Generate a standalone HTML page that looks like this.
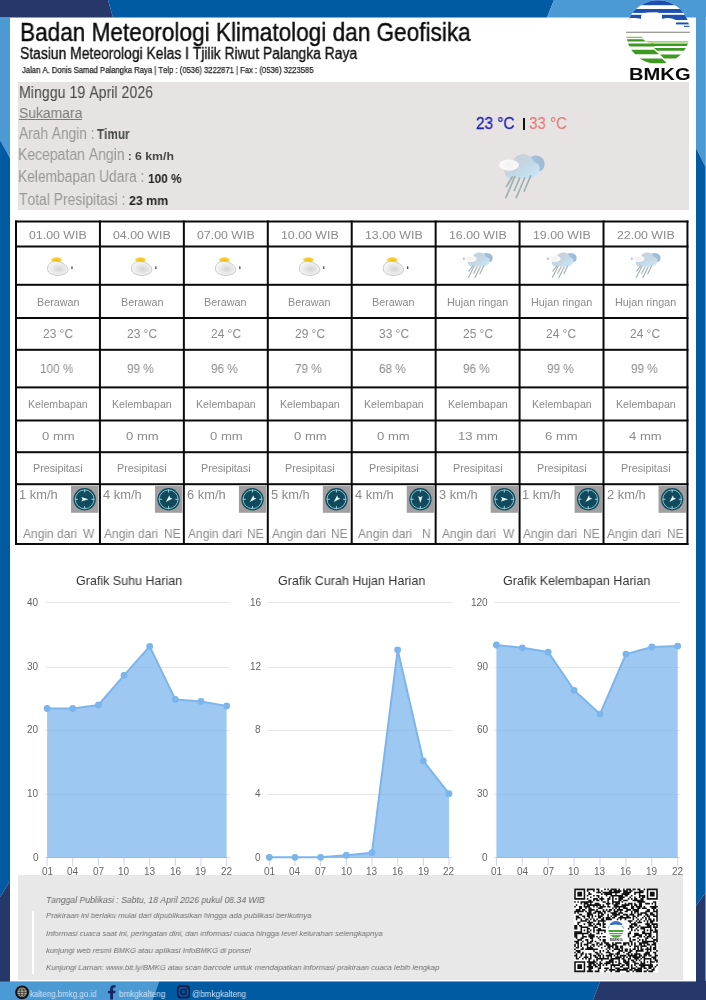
<!DOCTYPE html>
<html><head><meta charset="utf-8">
<style>
*{margin:0;padding:0;box-sizing:border-box}
html,body{width:706px;height:1000px;overflow:hidden;background:#fff}
body{position:relative;font-family:"Liberation Sans",sans-serif;color:#111}
.a{position:absolute;white-space:pre;line-height:1;font-kerning:none;transform-origin:0 0;will-change:transform}
svg{position:absolute;left:0;top:0;overflow:visible}
.small .rl line{vector-effect:non-scaling-stroke;stroke-width:1.1px}
</style></head><body>
<svg width="706" height="1000" viewBox="0 0 706 1000">
  <polygon points="0,0 108,0 113,17.4 0,17.4" fill="#263869"/>
  <polygon points="108,0 554,0 547,17.4 113,17.4" fill="#005ba2"/>
  <polygon points="554,0 706,0 706,17.4 547,17.4" fill="#4b9ad4"/>
  <polygon points="0,17 10,17 10,158 0,140" fill="#4b9ad4"/>
  <polygon points="0,140 10,158 10,881 0,897" fill="#005ba2"/>
  <polygon points="0,897 10,881 10,982 0,982" fill="#263869"/>
  <polygon points="696,17 706,17 706,168 696,148" fill="#4b9ad4"/>
  <polygon points="696,148 706,168 706,892 696,906" fill="#005ba2"/>
  <polygon points="696,906 706,892 706,982 696,982" fill="#263869"/>
  <rect x="705" y="17" width="1" height="964" fill="#7fb2e4" opacity="0.75"/>
  <rect x="0" y="981.5" width="706" height="1.6" fill="#000" opacity="0.16"/>
  <polygon points="0,981.5 159,981.5 152.5,1000 0,1000" fill="#4b9ad4"/>
  <polygon points="159,981.5 600,981.5 593,1000 152.5,1000" fill="#005ba2"/>
  <polygon points="600,981.5 706,981.5 706,1000 593,1000" fill="#263869"/>
</svg>
<div class="a" style="left:19.55px;top:20.00px;font-size:25.40px;color:#0c0c0c;transform:scaleX(0.8895);-webkit-text-stroke:0.4px #0c0c0c;">Badan Meteorologi Klimatologi dan Geofisika</div>
<div class="a" style="left:20.27px;top:46.00px;font-size:16.00px;color:#111;transform:scaleX(0.8675);-webkit-text-stroke:0.35px #111;">Stasiun Meteorologi Kelas I Tjilik Riwut Palangka Raya</div>
<div class="a" style="left:21.68px;top:66.00px;font-size:8.70px;color:#222;transform:scaleX(0.8834);-webkit-text-stroke:0.25px #222;">Jalan A. Donis Samad Palangka Raya | Telp : (0536) 3222871 | Fax : (0536) 3223585</div>
<svg width="706" height="100" viewBox="0 0 706 100">
<defs><clipPath id="lc"><circle cx="658.0" cy="32.2" r="32.0"/></clipPath>
<clipPath id="lct"><rect x="620" y="-5" width="80" height="37.2"/></clipPath></defs>
<g clip-path="url(#lc)">
 <rect x="620" y="-5" width="80" height="80" fill="#fff"/>
 <g clip-path="url(#lct)">
  <rect x="620" y="-5" width="80" height="10.2" fill="#1b4fb2"/>
  <rect x="620" y="9.0" width="80" height="3.9" fill="#1b4fb2"/>
  <rect x="620" y="14.8" width="80" height="5.3" fill="#1b4fb2"/>
  <path d="M620,22 L620,19.6 C624,19.2 627,18.3 631,18 C635,17.8 639,18.2 641,19 L641,16 C642,13.6 644,12.6 648,12.4 L656,12.3 C659,12.5 661,13.6 662,15.2 L662,19 C665,17.7 669,17.6 672,18.4 C674,19 675.5,19.6 676.5,20.2 L700,20.2 L700,22 Z" fill="#fff"/>
  <rect x="676" y="22.5" width="20" height="1.9" fill="#1b4fb2"/>
  <rect x="684" y="25.8" width="12" height="1.1" fill="#1b4fb2"/>
 </g>
 <!-- green left set -->
 <polygon points="620,36.8 642,36.8 643,38 620,38" fill="#8cc63f"/>
 <polygon points="620,39.2 643,39.2 646,41.4 620,41.4" fill="#3c9a22"/>
 <polygon points="620,43.6 653,43.6 655,46.6 620,46.6" fill="#3c9a22"/>
 <polygon points="620,49.8 654,49.8 659,54.2 620,54.2" fill="#3c9a22"/>
 <polygon points="620,58.5 662,58.5 667,63.3 620,63.3" fill="#3c9a22"/>
 <!-- green right set -->
 <polygon points="646,41.2 700,41.2 700,42.6 648,42.6" fill="#8cc63f"/>
 <polygon points="651,43.6 700,43.6 700,46 653,46" fill="#3c9a22"/>
 <polygon points="654,47.9 700,47.9 700,50.8 657,50.8" fill="#3c9a22"/>
 <polygon points="660,54.6 700,54.6 700,58.5 664,58.5" fill="#3c9a22"/>
</g>
<rect x="626" y="31.7" width="64" height="1.1" fill="#8a8580"/>
</svg>
<div class="a" style="left:628.55px;top:67.00px;font-size:16.70px;color:#0a0a0a;font-weight:bold;transform:scaleX(1.2073);">BMKG</div>
<div style="position:absolute;left:18px;top:82px;width:671px;height:128px;background:#e7e3e2"></div>
<div class="a" style="left:18.54px;top:85.00px;font-size:16.00px;color:#474747;transform:scaleX(0.8868);">Minggu 19 April 2026</div>
<div class="a" style="left:18.67px;top:105.00px;font-size:15.30px;color:#7a7a7a;transform:scaleX(0.9082);">Sukamara</div>
<div style="position:absolute;left:19px;top:119px;width:63.4px;height:1px;background:#7a7a7a"></div>
<div class="a" style="left:19.07px;top:126.00px;font-size:16.00px;color:#979797;transform:scaleX(0.8572);">Arah Angin :</div>
<div class="a" style="left:17.95px;top:147.00px;font-size:16.00px;color:#979797;transform:scaleX(0.8743);">Kecepatan Angin</div>
<div class="a" style="left:17.97px;top:169.00px;font-size:16.00px;color:#979797;transform:scaleX(0.8605);">Kelembapan Udara :</div>
<div class="a" style="left:18.79px;top:192.00px;font-size:16.00px;color:#979797;transform:scaleX(0.8677);">Total Presipitasi :</div>
<div class="a" style="left:97.37px;top:127.00px;font-size:14.00px;color:#474747;font-weight:bold;transform:scaleX(0.8359);">Timur</div>
<div class="a" style="left:127.94px;top:151.00px;font-size:11.00px;color:#474747;font-weight:bold;">:</div>
<div class="a" style="left:134.85px;top:151.00px;font-size:11.00px;color:#474747;font-weight:bold;transform:scaleX(1.1196);">6 km/h</div>
<div class="a" style="left:148.35px;top:172.00px;font-size:13.00px;color:#222;font-weight:bold;transform:scaleX(0.9104);">100 %</div>
<div class="a" style="left:128.67px;top:194.00px;font-size:13.00px;color:#222;font-weight:bold;transform:scaleX(0.9491);">23 mm</div>
<div class="a" style="left:476.23px;top:116.00px;font-size:15.80px;color:#1e1eb4;transform:scaleX(0.9714);-webkit-text-stroke:0.3px #1e1eb4;">23 °C</div>
<div style="position:absolute;left:523.2px;top:117.7px;width:1.8px;height:12.8px;background:#111"></div>
<div class="a" style="left:528.82px;top:116.00px;font-size:15.80px;color:#e07272;transform:scaleX(0.9561);">33 °C</div>
<svg width="0" height="0" style="position:absolute">
<defs>
 <radialGradient id="sunG" cx="0.5" cy="0.65" r="0.55"><stop offset="0" stop-color="#f0c000"/><stop offset="0.6" stop-color="#f5d03a"/><stop offset="1" stop-color="#fbeaa8" stop-opacity="0.1"/></radialGradient>
 <radialGradient id="cloudG" cx="0.55" cy="0.55" r="0.6"><stop offset="0" stop-color="#d4d4d4"/><stop offset="0.6" stop-color="#ececec"/><stop offset="1" stop-color="#fafafa"/></radialGradient>
 <linearGradient id="rcMain" x1="0.1" y1="0.1" x2="0.9" y2="0.9"><stop offset="0" stop-color="#c9cfd5"/><stop offset="0.5" stop-color="#c4d6e3"/><stop offset="1" stop-color="#c8e6f7"/></linearGradient>
 <linearGradient id="rcBack" x1="0" y1="0" x2="1" y2="0"><stop offset="0" stop-color="#a9c3dc"/><stop offset="1" stop-color="#9cbad6"/></linearGradient>
 <radialGradient id="rcFront" cx="0.5" cy="0.5" r="0.6"><stop offset="0" stop-color="#f0f0f0"/><stop offset="1" stop-color="#fdfdfd"/></radialGradient>
 <symbol id="pc" viewBox="-15 -10 32 22" overflow="visible">
  <ellipse cx="-1.4" cy="-6.4" rx="6.2" ry="3.4" fill="url(#sunG)"/>
  <path d="M-10.4,3.6 C-10.8,-1.6 -6.5,-4.6 -1.5,-4.2 C3.5,-3.8 9.2,-0.6 10,3.4 C10.6,7.2 5.5,9.6 0.5,9.8 C-4.5,10 -10.1,8 -10.4,3.6 Z" fill="url(#cloudG)" stroke="#b4b4b4" stroke-width="0.7"/>
  <rect x="13.4" y="0.8" width="1.2" height="2.6" fill="#3a3a3a"/>
 </symbol>
 <symbol id="rainc" viewBox="0 0 46 45" overflow="visible">
  <path d="M25,12 C26,5 30,1.2 36,1.2 C42,1.2 45.8,5 45.8,10 C45.8,14.5 43,17.5 39,17.5 L30,17.5 Z" fill="url(#rcBack)"/>
  <path d="M6,20 C4,14 8,9.5 13,9.5 C14,4 19,0 24.5,0.3 C30.5,0.6 34,4.5 35,8.5 C39,8.5 41.5,12 40.5,16 C39.5,21 35.5,24.7 29,24.7 L12,24.7 C8.5,24.7 6.8,22.5 6,20 Z" fill="url(#rcMain)"/>
  <ellipse cx="10" cy="11.2" rx="9.9" ry="5.6" fill="url(#rcFront)"/>
 </symbol>
 <symbol id="rain" viewBox="0 0 46 45" overflow="visible">
  <path d="M27,14 C27,6 32,1.5 37,1.5 C42,1.5 46.5,6 45.5,11 C45,15 42.5,17.5 39,17.5 L30,17.5 Z" fill="url(#rcBack)"/>
  <path d="M6,20 C4,14 8,9.5 13,9.5 C14,4 19,0 24.5,0.3 C30.5,0.6 34,4.5 35,8.5 C39,8.5 41.5,12 40.5,16 C39.5,21 35.5,24.7 29,24.7 L12,24.7 C8.5,24.7 6.8,22.5 6,20 Z" fill="url(#rcMain)"/>
  <ellipse cx="10" cy="11.2" rx="9.9" ry="5.6" fill="url(#rcFront)"/>
  <g stroke="#a0b1b5" stroke-width="1.8" stroke-linecap="round" class="rl">
   <line x1="13.3" y1="22.8" x2="7.4" y2="32.7"/>
   <line x1="15.8" y1="22.8" x2="6.9" y2="43.6"/>
   <line x1="20.7" y1="24.1" x2="15.3" y2="36.6"/>
   <line x1="25.7" y1="24.1" x2="17.3" y2="43.6"/>
   <line x1="31.6" y1="22.1" x2="25.2" y2="37.1"/>
  </g>
 </symbol>
 <symbol id="cmp" viewBox="0 0 27.4 27" overflow="visible">
  <rect x="0" y="0" width="27.4" height="27" fill="#a19f9f"/>
  <circle cx="13.6" cy="13.5" r="11.2" fill="#114a5d"/>
  <circle cx="13.6" cy="13.5" r="9.4" fill="none" stroke="#8fcdd6" stroke-width="0.9"/>
  <g stroke="#8fcdd6" stroke-width="1.1">
   <line x1="13.6" y1="3.6" x2="13.6" y2="6.8"/><line x1="13.6" y1="20.2" x2="13.6" y2="23.4"/>
   <line x1="3.7" y1="13.5" x2="6.9" y2="13.5"/><line x1="20.3" y1="13.5" x2="23.5" y2="13.5"/>
  </g>
 </symbol>
</defs></svg>
<svg width="706" height="1000"><use href="#rain" x="499" y="153.9" width="46" height="45"/></svg>
<svg width="706" height="1000">
<rect x="15.00" y="220.50" width="2" height="324.50" fill="#0a0a0a"/>
<rect x="98.93" y="220.50" width="2" height="324.50" fill="#0a0a0a"/>
<rect x="182.86" y="220.50" width="2" height="324.50" fill="#0a0a0a"/>
<rect x="266.79" y="220.50" width="2" height="324.50" fill="#0a0a0a"/>
<rect x="350.72" y="220.50" width="2" height="324.50" fill="#0a0a0a"/>
<rect x="434.65" y="220.50" width="2" height="324.50" fill="#0a0a0a"/>
<rect x="518.58" y="220.50" width="2" height="324.50" fill="#0a0a0a"/>
<rect x="602.51" y="220.50" width="2" height="324.50" fill="#0a0a0a"/>
<rect x="686.44" y="220.50" width="2" height="324.50" fill="#0a0a0a"/>
<rect x="15.00" y="220.50" width="673.44" height="2" fill="#0a0a0a"/>
<rect x="15.00" y="245.50" width="673.44" height="2" fill="#0a0a0a"/>
<rect x="15.00" y="283.80" width="673.44" height="2" fill="#0a0a0a"/>
<rect x="15.00" y="317.00" width="673.44" height="2" fill="#0a0a0a"/>
<rect x="15.00" y="348.80" width="673.44" height="2" fill="#0a0a0a"/>
<rect x="15.00" y="386.40" width="673.44" height="2" fill="#0a0a0a"/>
<rect x="15.00" y="419.50" width="673.44" height="2" fill="#0a0a0a"/>
<rect x="15.00" y="451.20" width="673.44" height="2" fill="#0a0a0a"/>
<rect x="15.00" y="483.20" width="673.44" height="2" fill="#0a0a0a"/>
<rect x="15.00" y="543.00" width="673.44" height="2" fill="#0a0a0a"/>
<use href="#pc" x="42.97" y="255.60" width="32" height="22"/>
<use href="#pc" x="126.90" y="255.60" width="32" height="22"/>
<use href="#pc" x="210.83" y="255.60" width="32" height="22"/>
<use href="#pc" x="294.75" y="255.60" width="32" height="22"/>
<use href="#pc" x="378.69" y="255.60" width="32" height="22"/>
<g transform="translate(464.31,252.3) scale(0.62,0.575)"><use href="#rainc" x="0" y="0" width="46" height="45"/></g>
<g stroke="#a3b3b6" stroke-width="1.15" stroke-linecap="round"><line x1="472.56" y1="266.21" x2="468.90" y2="271.10"/><line x1="474.11" y1="266.21" x2="468.59" y2="277.37"/><line x1="477.15" y1="266.96" x2="473.80" y2="273.35"/><line x1="480.25" y1="266.96" x2="475.04" y2="277.37"/><line x1="483.91" y1="265.81" x2="479.94" y2="273.63"/></g>
<rect x="463.01" y="257.7" width="1.8" height="2" fill="#b8b8b8"/>
<g transform="translate(548.25,252.3) scale(0.62,0.575)"><use href="#rainc" x="0" y="0" width="46" height="45"/></g>
<g stroke="#a3b3b6" stroke-width="1.15" stroke-linecap="round"><line x1="556.49" y1="266.21" x2="552.83" y2="271.10"/><line x1="558.04" y1="266.21" x2="552.52" y2="277.37"/><line x1="561.08" y1="266.96" x2="557.73" y2="273.35"/><line x1="564.18" y1="266.96" x2="558.97" y2="277.37"/><line x1="567.84" y1="265.81" x2="563.87" y2="273.63"/></g>
<rect x="546.95" y="257.7" width="1.8" height="2" fill="#b8b8b8"/>
<g transform="translate(632.17,252.3) scale(0.62,0.575)"><use href="#rainc" x="0" y="0" width="46" height="45"/></g>
<g stroke="#a3b3b6" stroke-width="1.15" stroke-linecap="round"><line x1="640.42" y1="266.21" x2="636.76" y2="271.10"/><line x1="641.97" y1="266.21" x2="636.45" y2="277.37"/><line x1="645.01" y1="266.96" x2="641.66" y2="273.35"/><line x1="648.11" y1="266.96" x2="642.90" y2="277.37"/><line x1="651.77" y1="265.81" x2="647.80" y2="273.63"/></g>
<rect x="630.88" y="257.7" width="1.8" height="2" fill="#b8b8b8"/>
<use href="#cmp" x="71.03" y="485.80" width="27.4" height="27"/>
<path transform="translate(84.63,499.30) rotate(90)" d="M0,-3.8 L2.2,3.4 L0,2.1 L-2.2,3.4 Z" fill="#e6fbff"/>
<use href="#cmp" x="154.96" y="485.80" width="27.4" height="27"/>
<path transform="translate(168.56,499.30) rotate(225)" d="M0,-3.8 L2.2,3.4 L0,2.1 L-2.2,3.4 Z" fill="#e6fbff"/>
<use href="#cmp" x="238.89" y="485.80" width="27.4" height="27"/>
<path transform="translate(252.49,499.30) rotate(225)" d="M0,-3.8 L2.2,3.4 L0,2.1 L-2.2,3.4 Z" fill="#e6fbff"/>
<use href="#cmp" x="322.82" y="485.80" width="27.4" height="27"/>
<path transform="translate(336.42,499.30) rotate(225)" d="M0,-3.8 L2.2,3.4 L0,2.1 L-2.2,3.4 Z" fill="#e6fbff"/>
<use href="#cmp" x="406.75" y="485.80" width="27.4" height="27"/>
<path transform="translate(420.35,499.30) rotate(180)" d="M0,-3.8 L2.2,3.4 L0,2.1 L-2.2,3.4 Z" fill="#e6fbff"/>
<use href="#cmp" x="490.68" y="485.80" width="27.4" height="27"/>
<path transform="translate(504.28,499.30) rotate(90)" d="M0,-3.8 L2.2,3.4 L0,2.1 L-2.2,3.4 Z" fill="#e6fbff"/>
<use href="#cmp" x="574.61" y="485.80" width="27.4" height="27"/>
<path transform="translate(588.21,499.30) rotate(225)" d="M0,-3.8 L2.2,3.4 L0,2.1 L-2.2,3.4 Z" fill="#e6fbff"/>
<use href="#cmp" x="658.54" y="485.80" width="27.4" height="27"/>
<path transform="translate(672.14,499.30) rotate(225)" d="M0,-3.8 L2.2,3.4 L0,2.1 L-2.2,3.4 Z" fill="#e6fbff"/>
</svg>
<div class="a" style="left:29.18px;top:229.00px;font-size:11.70px;color:#8a8a8a;transform:scaleX(1.0569);">01.00 WIB</div>
<div class="a" style="left:113.11px;top:229.00px;font-size:11.70px;color:#8a8a8a;transform:scaleX(1.0569);">04.00 WIB</div>
<div class="a" style="left:197.04px;top:229.00px;font-size:11.70px;color:#8a8a8a;transform:scaleX(1.0569);">07.00 WIB</div>
<div class="a" style="left:280.74px;top:229.00px;font-size:11.70px;color:#8a8a8a;transform:scaleX(1.0569);">10.00 WIB</div>
<div class="a" style="left:364.67px;top:229.00px;font-size:11.70px;color:#8a8a8a;transform:scaleX(1.0569);">13.00 WIB</div>
<div class="a" style="left:448.60px;top:229.00px;font-size:11.70px;color:#8a8a8a;transform:scaleX(1.0569);">16.00 WIB</div>
<div class="a" style="left:532.53px;top:229.00px;font-size:11.70px;color:#8a8a8a;transform:scaleX(1.0569);">19.00 WIB</div>
<div class="a" style="left:616.62px;top:229.00px;font-size:11.70px;color:#8a8a8a;transform:scaleX(1.0569);">22.00 WIB</div>
<div class="a" style="left:36.58px;top:297.00px;font-size:10.50px;color:#8a8a8a;transform:scaleX(1.0276);">Berawan</div>
<div class="a" style="left:120.51px;top:297.00px;font-size:10.50px;color:#8a8a8a;transform:scaleX(1.0276);">Berawan</div>
<div class="a" style="left:204.44px;top:297.00px;font-size:10.50px;color:#8a8a8a;transform:scaleX(1.0276);">Berawan</div>
<div class="a" style="left:288.37px;top:297.00px;font-size:10.50px;color:#8a8a8a;transform:scaleX(1.0276);">Berawan</div>
<div class="a" style="left:372.30px;top:297.00px;font-size:10.50px;color:#8a8a8a;transform:scaleX(1.0276);">Berawan</div>
<div class="a" style="left:446.93px;top:297.00px;font-size:10.50px;color:#8a8a8a;transform:scaleX(1.0276);">Hujan ringan</div>
<div class="a" style="left:530.86px;top:297.00px;font-size:10.50px;color:#8a8a8a;transform:scaleX(1.0276);">Hujan ringan</div>
<div class="a" style="left:614.79px;top:297.00px;font-size:10.50px;color:#8a8a8a;transform:scaleX(1.0276);">Hujan ringan</div>
<div class="a" style="left:42.86px;top:329.00px;font-size:11.90px;color:#8a8a8a;transform:scaleX(1.0054);">23 °C</div>
<div class="a" style="left:126.79px;top:329.00px;font-size:11.90px;color:#8a8a8a;transform:scaleX(1.0054);">23 °C</div>
<div class="a" style="left:210.72px;top:329.00px;font-size:11.90px;color:#8a8a8a;transform:scaleX(1.0054);">24 °C</div>
<div class="a" style="left:294.65px;top:329.00px;font-size:11.90px;color:#8a8a8a;transform:scaleX(1.0054);">29 °C</div>
<div class="a" style="left:378.66px;top:329.00px;font-size:11.90px;color:#8a8a8a;transform:scaleX(1.0054);">33 °C</div>
<div class="a" style="left:462.51px;top:329.00px;font-size:11.90px;color:#8a8a8a;transform:scaleX(1.0054);">25 °C</div>
<div class="a" style="left:546.44px;top:329.00px;font-size:11.90px;color:#8a8a8a;transform:scaleX(1.0054);">24 °C</div>
<div class="a" style="left:630.37px;top:329.00px;font-size:11.90px;color:#8a8a8a;transform:scaleX(1.0054);">24 °C</div>
<div class="a" style="left:39.67px;top:363.00px;font-size:12.30px;color:#8a8a8a;transform:scaleX(0.9552);">100 %</div>
<div class="a" style="left:127.04px;top:363.00px;font-size:12.30px;color:#8a8a8a;transform:scaleX(0.9552);">99 %</div>
<div class="a" style="left:210.97px;top:363.00px;font-size:12.30px;color:#8a8a8a;transform:scaleX(0.9552);">96 %</div>
<div class="a" style="left:294.87px;top:363.00px;font-size:12.30px;color:#8a8a8a;transform:scaleX(0.9552);">79 %</div>
<div class="a" style="left:378.81px;top:363.00px;font-size:12.30px;color:#8a8a8a;transform:scaleX(0.9552);">68 %</div>
<div class="a" style="left:462.76px;top:363.00px;font-size:12.30px;color:#8a8a8a;transform:scaleX(0.9552);">96 %</div>
<div class="a" style="left:546.69px;top:363.00px;font-size:12.30px;color:#8a8a8a;transform:scaleX(0.9552);">99 %</div>
<div class="a" style="left:630.62px;top:363.00px;font-size:12.30px;color:#8a8a8a;transform:scaleX(0.9552);">99 %</div>
<div class="a" style="left:27.99px;top:400.00px;font-size:10.30px;color:#8a8a8a;transform:scaleX(1.0333);">Kelembapan</div>
<div class="a" style="left:111.92px;top:400.00px;font-size:10.30px;color:#8a8a8a;transform:scaleX(1.0333);">Kelembapan</div>
<div class="a" style="left:195.85px;top:400.00px;font-size:10.30px;color:#8a8a8a;transform:scaleX(1.0333);">Kelembapan</div>
<div class="a" style="left:279.78px;top:400.00px;font-size:10.30px;color:#8a8a8a;transform:scaleX(1.0333);">Kelembapan</div>
<div class="a" style="left:363.71px;top:400.00px;font-size:10.30px;color:#8a8a8a;transform:scaleX(1.0333);">Kelembapan</div>
<div class="a" style="left:447.64px;top:400.00px;font-size:10.30px;color:#8a8a8a;transform:scaleX(1.0333);">Kelembapan</div>
<div class="a" style="left:531.57px;top:400.00px;font-size:10.30px;color:#8a8a8a;transform:scaleX(1.0333);">Kelembapan</div>
<div class="a" style="left:615.50px;top:400.00px;font-size:10.30px;color:#8a8a8a;transform:scaleX(1.0333);">Kelembapan</div>
<div class="a" style="left:41.75px;top:431.00px;font-size:11.20px;color:#8a8a8a;transform:scaleX(1.1706);">0 mm</div>
<div class="a" style="left:125.68px;top:431.00px;font-size:11.20px;color:#8a8a8a;transform:scaleX(1.1706);">0 mm</div>
<div class="a" style="left:209.61px;top:431.00px;font-size:11.20px;color:#8a8a8a;transform:scaleX(1.1706);">0 mm</div>
<div class="a" style="left:293.54px;top:431.00px;font-size:11.20px;color:#8a8a8a;transform:scaleX(1.1706);">0 mm</div>
<div class="a" style="left:377.47px;top:431.00px;font-size:11.20px;color:#8a8a8a;transform:scaleX(1.1706);">0 mm</div>
<div class="a" style="left:457.51px;top:431.00px;font-size:11.20px;color:#8a8a8a;transform:scaleX(1.1706);">13 mm</div>
<div class="a" style="left:545.26px;top:431.00px;font-size:11.20px;color:#8a8a8a;transform:scaleX(1.1706);">6 mm</div>
<div class="a" style="left:629.37px;top:431.00px;font-size:11.20px;color:#8a8a8a;transform:scaleX(1.1706);">4 mm</div>
<div class="a" style="left:33.08px;top:464.00px;font-size:10.00px;color:#8a8a8a;transform:scaleX(1.0754);">Presipitasi</div>
<div class="a" style="left:117.01px;top:464.00px;font-size:10.00px;color:#8a8a8a;transform:scaleX(1.0754);">Presipitasi</div>
<div class="a" style="left:200.94px;top:464.00px;font-size:10.00px;color:#8a8a8a;transform:scaleX(1.0754);">Presipitasi</div>
<div class="a" style="left:284.87px;top:464.00px;font-size:10.00px;color:#8a8a8a;transform:scaleX(1.0754);">Presipitasi</div>
<div class="a" style="left:368.80px;top:464.00px;font-size:10.00px;color:#8a8a8a;transform:scaleX(1.0754);">Presipitasi</div>
<div class="a" style="left:452.73px;top:464.00px;font-size:10.00px;color:#8a8a8a;transform:scaleX(1.0754);">Presipitasi</div>
<div class="a" style="left:536.66px;top:464.00px;font-size:10.00px;color:#8a8a8a;transform:scaleX(1.0754);">Presipitasi</div>
<div class="a" style="left:620.59px;top:464.00px;font-size:10.00px;color:#8a8a8a;transform:scaleX(1.0754);">Presipitasi</div>
<div class="a" style="left:18.82px;top:489.00px;font-size:12.30px;color:#8a8a8a;transform:scaleX(1.0462);">1 km/h</div>
<div class="a" style="left:22.58px;top:528.00px;font-size:12.80px;color:#8a8a8a;transform:scaleX(0.9374);">Angin dari</div>
<div class="a" style="left:82.85px;top:528.00px;font-size:12.80px;color:#8a8a8a;transform:scaleX(0.9374);">W</div>
<div class="a" style="left:103.43px;top:489.00px;font-size:12.30px;color:#8a8a8a;transform:scaleX(1.0462);">4 km/h</div>
<div class="a" style="left:103.71px;top:528.00px;font-size:12.80px;color:#8a8a8a;transform:scaleX(0.9374);">Angin dari</div>
<div class="a" style="left:163.51px;top:528.00px;font-size:12.80px;color:#8a8a8a;transform:scaleX(0.9374);">NE</div>
<div class="a" style="left:187.01px;top:489.00px;font-size:12.30px;color:#8a8a8a;transform:scaleX(1.0462);">6 km/h</div>
<div class="a" style="left:187.64px;top:528.00px;font-size:12.80px;color:#8a8a8a;transform:scaleX(0.9374);">Angin dari</div>
<div class="a" style="left:247.44px;top:528.00px;font-size:12.80px;color:#8a8a8a;transform:scaleX(0.9374);">NE</div>
<div class="a" style="left:271.07px;top:489.00px;font-size:12.30px;color:#8a8a8a;transform:scaleX(1.0462);">5 km/h</div>
<div class="a" style="left:271.57px;top:528.00px;font-size:12.80px;color:#8a8a8a;transform:scaleX(0.9374);">Angin dari</div>
<div class="a" style="left:331.37px;top:528.00px;font-size:12.80px;color:#8a8a8a;transform:scaleX(0.9374);">NE</div>
<div class="a" style="left:355.22px;top:489.00px;font-size:12.30px;color:#8a8a8a;transform:scaleX(1.0462);">4 km/h</div>
<div class="a" style="left:358.30px;top:528.00px;font-size:12.80px;color:#8a8a8a;transform:scaleX(0.9374);">Angin dari</div>
<div class="a" style="left:422.16px;top:528.00px;font-size:12.80px;color:#8a8a8a;transform:scaleX(0.9374);">N</div>
<div class="a" style="left:438.96px;top:489.00px;font-size:12.30px;color:#8a8a8a;transform:scaleX(1.0462);">3 km/h</div>
<div class="a" style="left:442.23px;top:528.00px;font-size:12.80px;color:#8a8a8a;transform:scaleX(0.9374);">Angin dari</div>
<div class="a" style="left:502.50px;top:528.00px;font-size:12.80px;color:#8a8a8a;transform:scaleX(0.9374);">W</div>
<div class="a" style="left:522.40px;top:489.00px;font-size:12.30px;color:#8a8a8a;transform:scaleX(1.0462);">1 km/h</div>
<div class="a" style="left:523.36px;top:528.00px;font-size:12.80px;color:#8a8a8a;transform:scaleX(0.9374);">Angin dari</div>
<div class="a" style="left:583.16px;top:528.00px;font-size:12.80px;color:#8a8a8a;transform:scaleX(0.9374);">NE</div>
<div class="a" style="left:606.66px;top:489.00px;font-size:12.30px;color:#8a8a8a;transform:scaleX(1.0462);">2 km/h</div>
<div class="a" style="left:607.29px;top:528.00px;font-size:12.80px;color:#8a8a8a;transform:scaleX(0.9374);">Angin dari</div>
<div class="a" style="left:667.09px;top:528.00px;font-size:12.80px;color:#8a8a8a;transform:scaleX(0.9374);">NE</div>
<svg width="706" height="1000">
<rect x="45.50" y="602" width="184.10" height="1" fill="#e6e6e6"/>
<rect x="45.50" y="667" width="184.10" height="1" fill="#e6e6e6"/>
<rect x="45.50" y="730" width="184.10" height="1" fill="#e6e6e6"/>
<rect x="45.50" y="794" width="184.10" height="1" fill="#e6e6e6"/>
<rect x="45.50" y="857" width="184.10" height="1" fill="#ccd6eb"/>
<rect x="46.60" y="858" width="1" height="8" fill="#ccd6eb"/>
<rect x="72.24" y="858" width="1" height="8" fill="#ccd6eb"/>
<rect x="97.89" y="858" width="1" height="8" fill="#ccd6eb"/>
<rect x="123.53" y="858" width="1" height="8" fill="#ccd6eb"/>
<rect x="149.17" y="858" width="1" height="8" fill="#ccd6eb"/>
<rect x="174.81" y="858" width="1" height="8" fill="#ccd6eb"/>
<rect x="200.46" y="858" width="1" height="8" fill="#ccd6eb"/>
<rect x="226.10" y="858" width="1" height="8" fill="#ccd6eb"/>
<polygon points="47.10,858 47.10,708.50 72.74,708.50 98.39,705.00 124.03,675.30 149.67,646.40 175.31,699.40 200.96,701.40 226.60,705.90 226.60,858" fill="#7cb5ec" fill-opacity="0.75"/>
<polyline points="47.10,708.50 72.74,708.50 98.39,705.00 124.03,675.30 149.67,646.40 175.31,699.40 200.96,701.40 226.60,705.90" fill="none" stroke="#7cb5ec" stroke-width="2" stroke-linejoin="round"/>
<circle cx="47.10" cy="708.50" r="3.4" fill="#7cb5ec"/>
<circle cx="72.74" cy="708.50" r="3.4" fill="#7cb5ec"/>
<circle cx="98.39" cy="705.00" r="3.4" fill="#7cb5ec"/>
<circle cx="124.03" cy="675.30" r="3.4" fill="#7cb5ec"/>
<circle cx="149.67" cy="646.40" r="3.4" fill="#7cb5ec"/>
<circle cx="175.31" cy="699.40" r="3.4" fill="#7cb5ec"/>
<circle cx="200.96" cy="701.40" r="3.4" fill="#7cb5ec"/>
<circle cx="226.60" cy="705.90" r="3.4" fill="#7cb5ec"/>
<rect x="267.30" y="602" width="184.30" height="1" fill="#e6e6e6"/>
<rect x="267.30" y="667" width="184.30" height="1" fill="#e6e6e6"/>
<rect x="267.30" y="730" width="184.30" height="1" fill="#e6e6e6"/>
<rect x="267.30" y="794" width="184.30" height="1" fill="#e6e6e6"/>
<rect x="267.30" y="857" width="184.30" height="1" fill="#ccd6eb"/>
<rect x="268.80" y="858" width="1" height="8" fill="#ccd6eb"/>
<rect x="294.47" y="858" width="1" height="8" fill="#ccd6eb"/>
<rect x="320.14" y="858" width="1" height="8" fill="#ccd6eb"/>
<rect x="345.81" y="858" width="1" height="8" fill="#ccd6eb"/>
<rect x="371.49" y="858" width="1" height="8" fill="#ccd6eb"/>
<rect x="397.16" y="858" width="1" height="8" fill="#ccd6eb"/>
<rect x="422.83" y="858" width="1" height="8" fill="#ccd6eb"/>
<rect x="448.50" y="858" width="1" height="8" fill="#ccd6eb"/>
<polygon points="269.30,858 269.30,857.30 294.97,857.30 320.64,857.30 346.31,855.23 371.99,852.68 397.66,649.80 423.33,760.90 449.00,793.70 449.00,858" fill="#7cb5ec" fill-opacity="0.75"/>
<polyline points="269.30,857.30 294.97,857.30 320.64,857.30 346.31,855.23 371.99,852.68 397.66,649.80 423.33,760.90 449.00,793.70" fill="none" stroke="#7cb5ec" stroke-width="2" stroke-linejoin="round"/>
<circle cx="269.30" cy="857.30" r="3.4" fill="#7cb5ec"/>
<circle cx="294.97" cy="857.30" r="3.4" fill="#7cb5ec"/>
<circle cx="320.64" cy="857.30" r="3.4" fill="#7cb5ec"/>
<circle cx="346.31" cy="855.23" r="3.4" fill="#7cb5ec"/>
<circle cx="371.99" cy="852.68" r="3.4" fill="#7cb5ec"/>
<circle cx="397.66" cy="649.80" r="3.4" fill="#7cb5ec"/>
<circle cx="423.33" cy="760.90" r="3.4" fill="#7cb5ec"/>
<circle cx="449.00" cy="793.70" r="3.4" fill="#7cb5ec"/>
<rect x="494.50" y="602" width="185.30" height="1" fill="#e6e6e6"/>
<rect x="494.50" y="667" width="185.30" height="1" fill="#e6e6e6"/>
<rect x="494.50" y="730" width="185.30" height="1" fill="#e6e6e6"/>
<rect x="494.50" y="794" width="185.30" height="1" fill="#e6e6e6"/>
<rect x="494.50" y="857" width="185.30" height="1" fill="#ccd6eb"/>
<rect x="495.90" y="858" width="1" height="8" fill="#ccd6eb"/>
<rect x="521.80" y="858" width="1" height="8" fill="#ccd6eb"/>
<rect x="547.70" y="858" width="1" height="8" fill="#ccd6eb"/>
<rect x="573.60" y="858" width="1" height="8" fill="#ccd6eb"/>
<rect x="599.50" y="858" width="1" height="8" fill="#ccd6eb"/>
<rect x="625.40" y="858" width="1" height="8" fill="#ccd6eb"/>
<rect x="651.30" y="858" width="1" height="8" fill="#ccd6eb"/>
<rect x="677.20" y="858" width="1" height="8" fill="#ccd6eb"/>
<polygon points="496.40,858 496.40,645.00 522.30,647.80 548.20,652.10 574.10,690.30 600.00,714.10 625.90,654.10 651.80,647.00 677.70,646.10 677.70,858" fill="#7cb5ec" fill-opacity="0.75"/>
<polyline points="496.40,645.00 522.30,647.80 548.20,652.10 574.10,690.30 600.00,714.10 625.90,654.10 651.80,647.00 677.70,646.10" fill="none" stroke="#7cb5ec" stroke-width="2" stroke-linejoin="round"/>
<circle cx="496.40" cy="645.00" r="3.4" fill="#7cb5ec"/>
<circle cx="522.30" cy="647.80" r="3.4" fill="#7cb5ec"/>
<circle cx="548.20" cy="652.10" r="3.4" fill="#7cb5ec"/>
<circle cx="574.10" cy="690.30" r="3.4" fill="#7cb5ec"/>
<circle cx="600.00" cy="714.10" r="3.4" fill="#7cb5ec"/>
<circle cx="625.90" cy="654.10" r="3.4" fill="#7cb5ec"/>
<circle cx="651.80" cy="647.00" r="3.4" fill="#7cb5ec"/>
<circle cx="677.70" cy="646.10" r="3.4" fill="#7cb5ec"/>
</svg>
<div class="a" style="left:75.87px;top:575.00px;font-size:12.60px;color:#333;transform:scaleX(0.9925);">Grafik Suhu Harian</div>
<div class="a" style="left:27.37px;top:598.00px;font-size:10.00px;color:#666;">40</div>
<div class="a" style="left:27.37px;top:662.00px;font-size:10.00px;color:#666;">30</div>
<div class="a" style="left:27.37px;top:725.00px;font-size:10.00px;color:#666;">20</div>
<div class="a" style="left:27.37px;top:789.00px;font-size:10.00px;color:#666;">10</div>
<div class="a" style="left:32.93px;top:853.00px;font-size:10.00px;color:#666;">0</div>
<div class="a" style="left:41.59px;top:867.00px;font-size:10.00px;color:#666;">01</div>
<div class="a" style="left:67.13px;top:867.00px;font-size:10.00px;color:#666;">04</div>
<div class="a" style="left:92.88px;top:867.00px;font-size:10.00px;color:#666;">07</div>
<div class="a" style="left:118.28px;top:867.00px;font-size:10.00px;color:#666;">10</div>
<div class="a" style="left:143.95px;top:867.00px;font-size:10.00px;color:#666;">13</div>
<div class="a" style="left:169.59px;top:867.00px;font-size:10.00px;color:#666;">16</div>
<div class="a" style="left:195.25px;top:867.00px;font-size:10.00px;color:#666;">19</div>
<div class="a" style="left:221.04px;top:867.00px;font-size:10.00px;color:#666;">22</div>
<div class="a" style="left:277.77px;top:575.00px;font-size:12.60px;color:#333;transform:scaleX(0.9918);">Grafik Curah Hujan Harian</div>
<div class="a" style="left:249.82px;top:598.00px;font-size:10.00px;color:#666;">16</div>
<div class="a" style="left:249.88px;top:662.00px;font-size:10.00px;color:#666;">12</div>
<div class="a" style="left:255.37px;top:725.00px;font-size:10.00px;color:#666;">8</div>
<div class="a" style="left:255.23px;top:789.00px;font-size:10.00px;color:#666;">4</div>
<div class="a" style="left:255.33px;top:853.00px;font-size:10.00px;color:#666;">0</div>
<div class="a" style="left:263.79px;top:867.00px;font-size:10.00px;color:#666;">01</div>
<div class="a" style="left:289.36px;top:867.00px;font-size:10.00px;color:#666;">04</div>
<div class="a" style="left:315.14px;top:867.00px;font-size:10.00px;color:#666;">07</div>
<div class="a" style="left:340.57px;top:867.00px;font-size:10.00px;color:#666;">10</div>
<div class="a" style="left:366.26px;top:867.00px;font-size:10.00px;color:#666;">13</div>
<div class="a" style="left:391.93px;top:867.00px;font-size:10.00px;color:#666;">16</div>
<div class="a" style="left:417.62px;top:867.00px;font-size:10.00px;color:#666;">19</div>
<div class="a" style="left:443.44px;top:867.00px;font-size:10.00px;color:#666;">22</div>
<div class="a" style="left:502.77px;top:575.00px;font-size:12.60px;color:#333;transform:scaleX(0.9917);">Grafik Kelembapan Harian</div>
<div class="a" style="left:471.11px;top:598.00px;font-size:10.00px;color:#666;">120</div>
<div class="a" style="left:476.67px;top:662.00px;font-size:10.00px;color:#666;">90</div>
<div class="a" style="left:476.67px;top:725.00px;font-size:10.00px;color:#666;">60</div>
<div class="a" style="left:476.67px;top:789.00px;font-size:10.00px;color:#666;">30</div>
<div class="a" style="left:482.23px;top:853.00px;font-size:10.00px;color:#666;">0</div>
<div class="a" style="left:490.89px;top:867.00px;font-size:10.00px;color:#666;">01</div>
<div class="a" style="left:516.69px;top:867.00px;font-size:10.00px;color:#666;">04</div>
<div class="a" style="left:542.69px;top:867.00px;font-size:10.00px;color:#666;">07</div>
<div class="a" style="left:568.35px;top:867.00px;font-size:10.00px;color:#666;">10</div>
<div class="a" style="left:594.28px;top:867.00px;font-size:10.00px;color:#666;">13</div>
<div class="a" style="left:620.18px;top:867.00px;font-size:10.00px;color:#666;">16</div>
<div class="a" style="left:646.09px;top:867.00px;font-size:10.00px;color:#666;">19</div>
<div class="a" style="left:672.14px;top:867.00px;font-size:10.00px;color:#666;">22</div>
<div style="position:absolute;left:18.4px;top:874.8px;width:664.6px;height:104.9px;background:#e8e8e8"></div>
<div style="position:absolute;left:32.2px;top:911px;width:1.8px;height:62.5px;background:#fff"></div>
<div class="a" style="left:46.33px;top:896.00px;font-size:9.20px;color:#686868;font-style:italic;transform:scaleX(0.9369);">Tanggal Publikasi : Sabtu, 18 April 2026 pukul 08.34 WIB</div>
<div class="a" style="left:46.16px;top:912.00px;font-size:8.10px;color:#6f6f6f;font-style:italic;transform:scaleX(0.9487);">Prakiraan ini berlaku mulai dari dipublikasikan hingga ada publikasi berikutnya</div>
<div class="a" style="left:46.10px;top:930.00px;font-size:8.10px;color:#6f6f6f;font-style:italic;transform:scaleX(0.9479);">Informasi cuaca saat ini, peringatan dini, dan informasi cuaca hingga level kelurahan selengkapnya</div>
<div class="a" style="left:46.27px;top:947.00px;font-size:8.10px;color:#6f6f6f;font-style:italic;transform:scaleX(0.9436);">kunjungi web resmi BMKG atau aplikasi InfoBMKG di ponsel</div>
<div class="a" style="left:46.16px;top:964.00px;font-size:8.10px;color:#6f6f6f;font-style:italic;transform:scaleX(0.9537);">Kunjungi Laman: www.bit.ly/BMKG atau scan barcode untuk mendapatkan informasi prakiraan cuaca lebih lengkap</div>
<svg width="706" height="1000"><rect x="573.80" y="888.20" width="84.40" height="84.40" fill="#fff"/>
<path d="M574.20,888.60h1.58v1.58h-1.58zM575.78,888.60h1.58v1.58h-1.58zM577.35,888.60h1.58v1.58h-1.58zM578.93,888.60h1.58v1.58h-1.58zM580.51,888.60h1.58v1.58h-1.58zM582.09,888.60h1.58v1.58h-1.58zM583.66,888.60h1.58v1.58h-1.58zM586.82,888.60h1.58v1.58h-1.58zM588.40,888.60h1.58v1.58h-1.58zM589.97,888.60h1.58v1.58h-1.58zM591.55,888.60h1.58v1.58h-1.58zM593.13,888.60h1.58v1.58h-1.58zM596.28,888.60h1.58v1.58h-1.58zM597.86,888.60h1.58v1.58h-1.58zM604.17,888.60h1.58v1.58h-1.58zM607.32,888.60h1.58v1.58h-1.58zM610.48,888.60h1.58v1.58h-1.58zM612.06,888.60h1.58v1.58h-1.58zM613.63,888.60h1.58v1.58h-1.58zM615.21,888.60h1.58v1.58h-1.58zM618.37,888.60h1.58v1.58h-1.58zM623.10,888.60h1.58v1.58h-1.58zM626.25,888.60h1.58v1.58h-1.58zM627.83,888.60h1.58v1.58h-1.58zM629.41,888.60h1.58v1.58h-1.58zM632.56,888.60h1.58v1.58h-1.58zM634.14,888.60h1.58v1.58h-1.58zM637.29,888.60h1.58v1.58h-1.58zM638.87,888.60h1.58v1.58h-1.58zM643.60,888.60h1.58v1.58h-1.58zM646.76,888.60h1.58v1.58h-1.58zM648.34,888.60h1.58v1.58h-1.58zM649.91,888.60h1.58v1.58h-1.58zM651.49,888.60h1.58v1.58h-1.58zM653.07,888.60h1.58v1.58h-1.58zM654.65,888.60h1.58v1.58h-1.58zM656.22,888.60h1.58v1.58h-1.58zM574.20,890.18h1.58v1.58h-1.58zM583.66,890.18h1.58v1.58h-1.58zM586.82,890.18h1.58v1.58h-1.58zM593.13,890.18h1.58v1.58h-1.58zM597.86,890.18h1.58v1.58h-1.58zM601.02,890.18h1.58v1.58h-1.58zM608.90,890.18h1.58v1.58h-1.58zM610.48,890.18h1.58v1.58h-1.58zM613.63,890.18h1.58v1.58h-1.58zM615.21,890.18h1.58v1.58h-1.58zM616.79,890.18h1.58v1.58h-1.58zM618.37,890.18h1.58v1.58h-1.58zM619.94,890.18h1.58v1.58h-1.58zM623.10,890.18h1.58v1.58h-1.58zM624.68,890.18h1.58v1.58h-1.58zM626.25,890.18h1.58v1.58h-1.58zM629.41,890.18h1.58v1.58h-1.58zM630.98,890.18h1.58v1.58h-1.58zM638.87,890.18h1.58v1.58h-1.58zM640.45,890.18h1.58v1.58h-1.58zM642.03,890.18h1.58v1.58h-1.58zM646.76,890.18h1.58v1.58h-1.58zM656.22,890.18h1.58v1.58h-1.58zM574.20,891.75h1.58v1.58h-1.58zM577.35,891.75h1.58v1.58h-1.58zM578.93,891.75h1.58v1.58h-1.58zM580.51,891.75h1.58v1.58h-1.58zM583.66,891.75h1.58v1.58h-1.58zM588.40,891.75h1.58v1.58h-1.58zM596.28,891.75h1.58v1.58h-1.58zM597.86,891.75h1.58v1.58h-1.58zM599.44,891.75h1.58v1.58h-1.58zM602.59,891.75h1.58v1.58h-1.58zM604.17,891.75h1.58v1.58h-1.58zM605.75,891.75h1.58v1.58h-1.58zM607.32,891.75h1.58v1.58h-1.58zM608.90,891.75h1.58v1.58h-1.58zM610.48,891.75h1.58v1.58h-1.58zM612.06,891.75h1.58v1.58h-1.58zM613.63,891.75h1.58v1.58h-1.58zM615.21,891.75h1.58v1.58h-1.58zM616.79,891.75h1.58v1.58h-1.58zM618.37,891.75h1.58v1.58h-1.58zM623.10,891.75h1.58v1.58h-1.58zM624.68,891.75h1.58v1.58h-1.58zM626.25,891.75h1.58v1.58h-1.58zM627.83,891.75h1.58v1.58h-1.58zM629.41,891.75h1.58v1.58h-1.58zM634.14,891.75h1.58v1.58h-1.58zM635.72,891.75h1.58v1.58h-1.58zM637.29,891.75h1.58v1.58h-1.58zM638.87,891.75h1.58v1.58h-1.58zM640.45,891.75h1.58v1.58h-1.58zM642.03,891.75h1.58v1.58h-1.58zM646.76,891.75h1.58v1.58h-1.58zM649.91,891.75h1.58v1.58h-1.58zM651.49,891.75h1.58v1.58h-1.58zM653.07,891.75h1.58v1.58h-1.58zM656.22,891.75h1.58v1.58h-1.58zM574.20,893.33h1.58v1.58h-1.58zM577.35,893.33h1.58v1.58h-1.58zM578.93,893.33h1.58v1.58h-1.58zM580.51,893.33h1.58v1.58h-1.58zM583.66,893.33h1.58v1.58h-1.58zM588.40,893.33h1.58v1.58h-1.58zM589.97,893.33h1.58v1.58h-1.58zM601.02,893.33h1.58v1.58h-1.58zM604.17,893.33h1.58v1.58h-1.58zM605.75,893.33h1.58v1.58h-1.58zM607.32,893.33h1.58v1.58h-1.58zM608.90,893.33h1.58v1.58h-1.58zM610.48,893.33h1.58v1.58h-1.58zM615.21,893.33h1.58v1.58h-1.58zM621.52,893.33h1.58v1.58h-1.58zM623.10,893.33h1.58v1.58h-1.58zM624.68,893.33h1.58v1.58h-1.58zM626.25,893.33h1.58v1.58h-1.58zM627.83,893.33h1.58v1.58h-1.58zM634.14,893.33h1.58v1.58h-1.58zM638.87,893.33h1.58v1.58h-1.58zM646.76,893.33h1.58v1.58h-1.58zM649.91,893.33h1.58v1.58h-1.58zM651.49,893.33h1.58v1.58h-1.58zM653.07,893.33h1.58v1.58h-1.58zM656.22,893.33h1.58v1.58h-1.58zM574.20,894.91h1.58v1.58h-1.58zM577.35,894.91h1.58v1.58h-1.58zM578.93,894.91h1.58v1.58h-1.58zM580.51,894.91h1.58v1.58h-1.58zM583.66,894.91h1.58v1.58h-1.58zM586.82,894.91h1.58v1.58h-1.58zM593.13,894.91h1.58v1.58h-1.58zM596.28,894.91h1.58v1.58h-1.58zM597.86,894.91h1.58v1.58h-1.58zM605.75,894.91h1.58v1.58h-1.58zM610.48,894.91h1.58v1.58h-1.58zM612.06,894.91h1.58v1.58h-1.58zM613.63,894.91h1.58v1.58h-1.58zM615.21,894.91h1.58v1.58h-1.58zM616.79,894.91h1.58v1.58h-1.58zM618.37,894.91h1.58v1.58h-1.58zM619.94,894.91h1.58v1.58h-1.58zM621.52,894.91h1.58v1.58h-1.58zM624.68,894.91h1.58v1.58h-1.58zM626.25,894.91h1.58v1.58h-1.58zM630.98,894.91h1.58v1.58h-1.58zM638.87,894.91h1.58v1.58h-1.58zM640.45,894.91h1.58v1.58h-1.58zM642.03,894.91h1.58v1.58h-1.58zM643.60,894.91h1.58v1.58h-1.58zM646.76,894.91h1.58v1.58h-1.58zM649.91,894.91h1.58v1.58h-1.58zM651.49,894.91h1.58v1.58h-1.58zM653.07,894.91h1.58v1.58h-1.58zM656.22,894.91h1.58v1.58h-1.58zM574.20,896.49h1.58v1.58h-1.58zM583.66,896.49h1.58v1.58h-1.58zM589.97,896.49h1.58v1.58h-1.58zM597.86,896.49h1.58v1.58h-1.58zM601.02,896.49h1.58v1.58h-1.58zM608.90,896.49h1.58v1.58h-1.58zM612.06,896.49h1.58v1.58h-1.58zM618.37,896.49h1.58v1.58h-1.58zM619.94,896.49h1.58v1.58h-1.58zM621.52,896.49h1.58v1.58h-1.58zM623.10,896.49h1.58v1.58h-1.58zM629.41,896.49h1.58v1.58h-1.58zM634.14,896.49h1.58v1.58h-1.58zM638.87,896.49h1.58v1.58h-1.58zM642.03,896.49h1.58v1.58h-1.58zM643.60,896.49h1.58v1.58h-1.58zM646.76,896.49h1.58v1.58h-1.58zM656.22,896.49h1.58v1.58h-1.58zM574.20,898.06h1.58v1.58h-1.58zM575.78,898.06h1.58v1.58h-1.58zM577.35,898.06h1.58v1.58h-1.58zM578.93,898.06h1.58v1.58h-1.58zM580.51,898.06h1.58v1.58h-1.58zM582.09,898.06h1.58v1.58h-1.58zM583.66,898.06h1.58v1.58h-1.58zM586.82,898.06h1.58v1.58h-1.58zM593.13,898.06h1.58v1.58h-1.58zM594.71,898.06h1.58v1.58h-1.58zM596.28,898.06h1.58v1.58h-1.58zM599.44,898.06h1.58v1.58h-1.58zM601.02,898.06h1.58v1.58h-1.58zM602.59,898.06h1.58v1.58h-1.58zM607.32,898.06h1.58v1.58h-1.58zM608.90,898.06h1.58v1.58h-1.58zM612.06,898.06h1.58v1.58h-1.58zM615.21,898.06h1.58v1.58h-1.58zM618.37,898.06h1.58v1.58h-1.58zM619.94,898.06h1.58v1.58h-1.58zM621.52,898.06h1.58v1.58h-1.58zM627.83,898.06h1.58v1.58h-1.58zM630.98,898.06h1.58v1.58h-1.58zM634.14,898.06h1.58v1.58h-1.58zM635.72,898.06h1.58v1.58h-1.58zM640.45,898.06h1.58v1.58h-1.58zM642.03,898.06h1.58v1.58h-1.58zM646.76,898.06h1.58v1.58h-1.58zM648.34,898.06h1.58v1.58h-1.58zM649.91,898.06h1.58v1.58h-1.58zM651.49,898.06h1.58v1.58h-1.58zM653.07,898.06h1.58v1.58h-1.58zM654.65,898.06h1.58v1.58h-1.58zM656.22,898.06h1.58v1.58h-1.58zM588.40,899.64h1.58v1.58h-1.58zM589.97,899.64h1.58v1.58h-1.58zM593.13,899.64h1.58v1.58h-1.58zM596.28,899.64h1.58v1.58h-1.58zM597.86,899.64h1.58v1.58h-1.58zM601.02,899.64h1.58v1.58h-1.58zM607.32,899.64h1.58v1.58h-1.58zM612.06,899.64h1.58v1.58h-1.58zM618.37,899.64h1.58v1.58h-1.58zM619.94,899.64h1.58v1.58h-1.58zM623.10,899.64h1.58v1.58h-1.58zM624.68,899.64h1.58v1.58h-1.58zM626.25,899.64h1.58v1.58h-1.58zM632.56,899.64h1.58v1.58h-1.58zM634.14,899.64h1.58v1.58h-1.58zM635.72,899.64h1.58v1.58h-1.58zM637.29,899.64h1.58v1.58h-1.58zM638.87,899.64h1.58v1.58h-1.58zM640.45,899.64h1.58v1.58h-1.58zM642.03,899.64h1.58v1.58h-1.58zM574.20,901.22h1.58v1.58h-1.58zM577.35,901.22h1.58v1.58h-1.58zM580.51,901.22h1.58v1.58h-1.58zM582.09,901.22h1.58v1.58h-1.58zM583.66,901.22h1.58v1.58h-1.58zM585.24,901.22h1.58v1.58h-1.58zM586.82,901.22h1.58v1.58h-1.58zM588.40,901.22h1.58v1.58h-1.58zM589.97,901.22h1.58v1.58h-1.58zM591.55,901.22h1.58v1.58h-1.58zM602.59,901.22h1.58v1.58h-1.58zM604.17,901.22h1.58v1.58h-1.58zM607.32,901.22h1.58v1.58h-1.58zM612.06,901.22h1.58v1.58h-1.58zM613.63,901.22h1.58v1.58h-1.58zM615.21,901.22h1.58v1.58h-1.58zM616.79,901.22h1.58v1.58h-1.58zM618.37,901.22h1.58v1.58h-1.58zM621.52,901.22h1.58v1.58h-1.58zM637.29,901.22h1.58v1.58h-1.58zM638.87,901.22h1.58v1.58h-1.58zM640.45,901.22h1.58v1.58h-1.58zM642.03,901.22h1.58v1.58h-1.58zM643.60,901.22h1.58v1.58h-1.58zM653.07,901.22h1.58v1.58h-1.58zM654.65,901.22h1.58v1.58h-1.58zM580.51,902.80h1.58v1.58h-1.58zM583.66,902.80h1.58v1.58h-1.58zM585.24,902.80h1.58v1.58h-1.58zM586.82,902.80h1.58v1.58h-1.58zM589.97,902.80h1.58v1.58h-1.58zM594.71,902.80h1.58v1.58h-1.58zM596.28,902.80h1.58v1.58h-1.58zM597.86,902.80h1.58v1.58h-1.58zM605.75,902.80h1.58v1.58h-1.58zM607.32,902.80h1.58v1.58h-1.58zM608.90,902.80h1.58v1.58h-1.58zM612.06,902.80h1.58v1.58h-1.58zM615.21,902.80h1.58v1.58h-1.58zM616.79,902.80h1.58v1.58h-1.58zM618.37,902.80h1.58v1.58h-1.58zM624.68,902.80h1.58v1.58h-1.58zM627.83,902.80h1.58v1.58h-1.58zM629.41,902.80h1.58v1.58h-1.58zM630.98,902.80h1.58v1.58h-1.58zM634.14,902.80h1.58v1.58h-1.58zM638.87,902.80h1.58v1.58h-1.58zM640.45,902.80h1.58v1.58h-1.58zM645.18,902.80h1.58v1.58h-1.58zM646.76,902.80h1.58v1.58h-1.58zM648.34,902.80h1.58v1.58h-1.58zM651.49,902.80h1.58v1.58h-1.58zM654.65,902.80h1.58v1.58h-1.58zM575.78,904.37h1.58v1.58h-1.58zM583.66,904.37h1.58v1.58h-1.58zM586.82,904.37h1.58v1.58h-1.58zM588.40,904.37h1.58v1.58h-1.58zM589.97,904.37h1.58v1.58h-1.58zM591.55,904.37h1.58v1.58h-1.58zM593.13,904.37h1.58v1.58h-1.58zM594.71,904.37h1.58v1.58h-1.58zM596.28,904.37h1.58v1.58h-1.58zM597.86,904.37h1.58v1.58h-1.58zM599.44,904.37h1.58v1.58h-1.58zM602.59,904.37h1.58v1.58h-1.58zM607.32,904.37h1.58v1.58h-1.58zM613.63,904.37h1.58v1.58h-1.58zM615.21,904.37h1.58v1.58h-1.58zM616.79,904.37h1.58v1.58h-1.58zM621.52,904.37h1.58v1.58h-1.58zM623.10,904.37h1.58v1.58h-1.58zM624.68,904.37h1.58v1.58h-1.58zM626.25,904.37h1.58v1.58h-1.58zM627.83,904.37h1.58v1.58h-1.58zM630.98,904.37h1.58v1.58h-1.58zM634.14,904.37h1.58v1.58h-1.58zM635.72,904.37h1.58v1.58h-1.58zM638.87,904.37h1.58v1.58h-1.58zM640.45,904.37h1.58v1.58h-1.58zM654.65,904.37h1.58v1.58h-1.58zM574.20,905.95h1.58v1.58h-1.58zM578.93,905.95h1.58v1.58h-1.58zM580.51,905.95h1.58v1.58h-1.58zM583.66,905.95h1.58v1.58h-1.58zM585.24,905.95h1.58v1.58h-1.58zM586.82,905.95h1.58v1.58h-1.58zM588.40,905.95h1.58v1.58h-1.58zM593.13,905.95h1.58v1.58h-1.58zM596.28,905.95h1.58v1.58h-1.58zM599.44,905.95h1.58v1.58h-1.58zM601.02,905.95h1.58v1.58h-1.58zM602.59,905.95h1.58v1.58h-1.58zM604.17,905.95h1.58v1.58h-1.58zM607.32,905.95h1.58v1.58h-1.58zM608.90,905.95h1.58v1.58h-1.58zM613.63,905.95h1.58v1.58h-1.58zM615.21,905.95h1.58v1.58h-1.58zM616.79,905.95h1.58v1.58h-1.58zM618.37,905.95h1.58v1.58h-1.58zM619.94,905.95h1.58v1.58h-1.58zM621.52,905.95h1.58v1.58h-1.58zM623.10,905.95h1.58v1.58h-1.58zM624.68,905.95h1.58v1.58h-1.58zM630.98,905.95h1.58v1.58h-1.58zM632.56,905.95h1.58v1.58h-1.58zM635.72,905.95h1.58v1.58h-1.58zM637.29,905.95h1.58v1.58h-1.58zM638.87,905.95h1.58v1.58h-1.58zM640.45,905.95h1.58v1.58h-1.58zM643.60,905.95h1.58v1.58h-1.58zM649.91,905.95h1.58v1.58h-1.58zM651.49,905.95h1.58v1.58h-1.58zM653.07,905.95h1.58v1.58h-1.58zM654.65,905.95h1.58v1.58h-1.58zM656.22,905.95h1.58v1.58h-1.58zM578.93,907.53h1.58v1.58h-1.58zM580.51,907.53h1.58v1.58h-1.58zM585.24,907.53h1.58v1.58h-1.58zM588.40,907.53h1.58v1.58h-1.58zM589.97,907.53h1.58v1.58h-1.58zM597.86,907.53h1.58v1.58h-1.58zM599.44,907.53h1.58v1.58h-1.58zM601.02,907.53h1.58v1.58h-1.58zM612.06,907.53h1.58v1.58h-1.58zM615.21,907.53h1.58v1.58h-1.58zM618.37,907.53h1.58v1.58h-1.58zM623.10,907.53h1.58v1.58h-1.58zM624.68,907.53h1.58v1.58h-1.58zM626.25,907.53h1.58v1.58h-1.58zM630.98,907.53h1.58v1.58h-1.58zM632.56,907.53h1.58v1.58h-1.58zM637.29,907.53h1.58v1.58h-1.58zM638.87,907.53h1.58v1.58h-1.58zM642.03,907.53h1.58v1.58h-1.58zM643.60,907.53h1.58v1.58h-1.58zM645.18,907.53h1.58v1.58h-1.58zM651.49,907.53h1.58v1.58h-1.58zM653.07,907.53h1.58v1.58h-1.58zM654.65,907.53h1.58v1.58h-1.58zM575.78,909.11h1.58v1.58h-1.58zM577.35,909.11h1.58v1.58h-1.58zM578.93,909.11h1.58v1.58h-1.58zM582.09,909.11h1.58v1.58h-1.58zM583.66,909.11h1.58v1.58h-1.58zM588.40,909.11h1.58v1.58h-1.58zM589.97,909.11h1.58v1.58h-1.58zM591.55,909.11h1.58v1.58h-1.58zM593.13,909.11h1.58v1.58h-1.58zM596.28,909.11h1.58v1.58h-1.58zM602.59,909.11h1.58v1.58h-1.58zM605.75,909.11h1.58v1.58h-1.58zM608.90,909.11h1.58v1.58h-1.58zM610.48,909.11h1.58v1.58h-1.58zM613.63,909.11h1.58v1.58h-1.58zM616.79,909.11h1.58v1.58h-1.58zM618.37,909.11h1.58v1.58h-1.58zM619.94,909.11h1.58v1.58h-1.58zM621.52,909.11h1.58v1.58h-1.58zM626.25,909.11h1.58v1.58h-1.58zM627.83,909.11h1.58v1.58h-1.58zM629.41,909.11h1.58v1.58h-1.58zM632.56,909.11h1.58v1.58h-1.58zM634.14,909.11h1.58v1.58h-1.58zM635.72,909.11h1.58v1.58h-1.58zM637.29,909.11h1.58v1.58h-1.58zM646.76,909.11h1.58v1.58h-1.58zM648.34,909.11h1.58v1.58h-1.58zM653.07,909.11h1.58v1.58h-1.58zM656.22,909.11h1.58v1.58h-1.58zM574.20,910.68h1.58v1.58h-1.58zM575.78,910.68h1.58v1.58h-1.58zM577.35,910.68h1.58v1.58h-1.58zM578.93,910.68h1.58v1.58h-1.58zM580.51,910.68h1.58v1.58h-1.58zM582.09,910.68h1.58v1.58h-1.58zM585.24,910.68h1.58v1.58h-1.58zM588.40,910.68h1.58v1.58h-1.58zM589.97,910.68h1.58v1.58h-1.58zM594.71,910.68h1.58v1.58h-1.58zM596.28,910.68h1.58v1.58h-1.58zM597.86,910.68h1.58v1.58h-1.58zM599.44,910.68h1.58v1.58h-1.58zM602.59,910.68h1.58v1.58h-1.58zM604.17,910.68h1.58v1.58h-1.58zM607.32,910.68h1.58v1.58h-1.58zM608.90,910.68h1.58v1.58h-1.58zM613.63,910.68h1.58v1.58h-1.58zM615.21,910.68h1.58v1.58h-1.58zM616.79,910.68h1.58v1.58h-1.58zM619.94,910.68h1.58v1.58h-1.58zM624.68,910.68h1.58v1.58h-1.58zM626.25,910.68h1.58v1.58h-1.58zM630.98,910.68h1.58v1.58h-1.58zM634.14,910.68h1.58v1.58h-1.58zM635.72,910.68h1.58v1.58h-1.58zM637.29,910.68h1.58v1.58h-1.58zM645.18,910.68h1.58v1.58h-1.58zM646.76,910.68h1.58v1.58h-1.58zM648.34,910.68h1.58v1.58h-1.58zM653.07,910.68h1.58v1.58h-1.58zM654.65,910.68h1.58v1.58h-1.58zM656.22,910.68h1.58v1.58h-1.58zM574.20,912.26h1.58v1.58h-1.58zM577.35,912.26h1.58v1.58h-1.58zM586.82,912.26h1.58v1.58h-1.58zM588.40,912.26h1.58v1.58h-1.58zM589.97,912.26h1.58v1.58h-1.58zM593.13,912.26h1.58v1.58h-1.58zM594.71,912.26h1.58v1.58h-1.58zM597.86,912.26h1.58v1.58h-1.58zM599.44,912.26h1.58v1.58h-1.58zM601.02,912.26h1.58v1.58h-1.58zM604.17,912.26h1.58v1.58h-1.58zM610.48,912.26h1.58v1.58h-1.58zM612.06,912.26h1.58v1.58h-1.58zM613.63,912.26h1.58v1.58h-1.58zM615.21,912.26h1.58v1.58h-1.58zM618.37,912.26h1.58v1.58h-1.58zM619.94,912.26h1.58v1.58h-1.58zM621.52,912.26h1.58v1.58h-1.58zM630.98,912.26h1.58v1.58h-1.58zM634.14,912.26h1.58v1.58h-1.58zM637.29,912.26h1.58v1.58h-1.58zM640.45,912.26h1.58v1.58h-1.58zM642.03,912.26h1.58v1.58h-1.58zM643.60,912.26h1.58v1.58h-1.58zM645.18,912.26h1.58v1.58h-1.58zM649.91,912.26h1.58v1.58h-1.58zM651.49,912.26h1.58v1.58h-1.58zM656.22,912.26h1.58v1.58h-1.58zM578.93,913.84h1.58v1.58h-1.58zM580.51,913.84h1.58v1.58h-1.58zM586.82,913.84h1.58v1.58h-1.58zM588.40,913.84h1.58v1.58h-1.58zM589.97,913.84h1.58v1.58h-1.58zM591.55,913.84h1.58v1.58h-1.58zM597.86,913.84h1.58v1.58h-1.58zM601.02,913.84h1.58v1.58h-1.58zM602.59,913.84h1.58v1.58h-1.58zM607.32,913.84h1.58v1.58h-1.58zM612.06,913.84h1.58v1.58h-1.58zM613.63,913.84h1.58v1.58h-1.58zM615.21,913.84h1.58v1.58h-1.58zM616.79,913.84h1.58v1.58h-1.58zM618.37,913.84h1.58v1.58h-1.58zM623.10,913.84h1.58v1.58h-1.58zM624.68,913.84h1.58v1.58h-1.58zM626.25,913.84h1.58v1.58h-1.58zM629.41,913.84h1.58v1.58h-1.58zM630.98,913.84h1.58v1.58h-1.58zM632.56,913.84h1.58v1.58h-1.58zM637.29,913.84h1.58v1.58h-1.58zM638.87,913.84h1.58v1.58h-1.58zM640.45,913.84h1.58v1.58h-1.58zM645.18,913.84h1.58v1.58h-1.58zM646.76,913.84h1.58v1.58h-1.58zM649.91,913.84h1.58v1.58h-1.58zM651.49,913.84h1.58v1.58h-1.58zM653.07,913.84h1.58v1.58h-1.58zM656.22,913.84h1.58v1.58h-1.58zM575.78,915.42h1.58v1.58h-1.58zM577.35,915.42h1.58v1.58h-1.58zM582.09,915.42h1.58v1.58h-1.58zM583.66,915.42h1.58v1.58h-1.58zM586.82,915.42h1.58v1.58h-1.58zM588.40,915.42h1.58v1.58h-1.58zM591.55,915.42h1.58v1.58h-1.58zM594.71,915.42h1.58v1.58h-1.58zM597.86,915.42h1.58v1.58h-1.58zM599.44,915.42h1.58v1.58h-1.58zM601.02,915.42h1.58v1.58h-1.58zM607.32,915.42h1.58v1.58h-1.58zM610.48,915.42h1.58v1.58h-1.58zM613.63,915.42h1.58v1.58h-1.58zM615.21,915.42h1.58v1.58h-1.58zM619.94,915.42h1.58v1.58h-1.58zM621.52,915.42h1.58v1.58h-1.58zM626.25,915.42h1.58v1.58h-1.58zM627.83,915.42h1.58v1.58h-1.58zM632.56,915.42h1.58v1.58h-1.58zM634.14,915.42h1.58v1.58h-1.58zM637.29,915.42h1.58v1.58h-1.58zM643.60,915.42h1.58v1.58h-1.58zM646.76,915.42h1.58v1.58h-1.58zM648.34,915.42h1.58v1.58h-1.58zM653.07,915.42h1.58v1.58h-1.58zM654.65,915.42h1.58v1.58h-1.58zM656.22,915.42h1.58v1.58h-1.58zM575.78,916.99h1.58v1.58h-1.58zM577.35,916.99h1.58v1.58h-1.58zM578.93,916.99h1.58v1.58h-1.58zM583.66,916.99h1.58v1.58h-1.58zM588.40,916.99h1.58v1.58h-1.58zM591.55,916.99h1.58v1.58h-1.58zM597.86,916.99h1.58v1.58h-1.58zM599.44,916.99h1.58v1.58h-1.58zM602.59,916.99h1.58v1.58h-1.58zM605.75,916.99h1.58v1.58h-1.58zM607.32,916.99h1.58v1.58h-1.58zM608.90,916.99h1.58v1.58h-1.58zM612.06,916.99h1.58v1.58h-1.58zM613.63,916.99h1.58v1.58h-1.58zM618.37,916.99h1.58v1.58h-1.58zM619.94,916.99h1.58v1.58h-1.58zM621.52,916.99h1.58v1.58h-1.58zM623.10,916.99h1.58v1.58h-1.58zM624.68,916.99h1.58v1.58h-1.58zM626.25,916.99h1.58v1.58h-1.58zM627.83,916.99h1.58v1.58h-1.58zM629.41,916.99h1.58v1.58h-1.58zM632.56,916.99h1.58v1.58h-1.58zM635.72,916.99h1.58v1.58h-1.58zM642.03,916.99h1.58v1.58h-1.58zM645.18,916.99h1.58v1.58h-1.58zM648.34,916.99h1.58v1.58h-1.58zM656.22,916.99h1.58v1.58h-1.58zM575.78,918.57h1.58v1.58h-1.58zM580.51,918.57h1.58v1.58h-1.58zM585.24,918.57h1.58v1.58h-1.58zM586.82,918.57h1.58v1.58h-1.58zM589.97,918.57h1.58v1.58h-1.58zM593.13,918.57h1.58v1.58h-1.58zM596.28,918.57h1.58v1.58h-1.58zM601.02,918.57h1.58v1.58h-1.58zM602.59,918.57h1.58v1.58h-1.58zM605.75,918.57h1.58v1.58h-1.58zM607.32,918.57h1.58v1.58h-1.58zM608.90,918.57h1.58v1.58h-1.58zM610.48,918.57h1.58v1.58h-1.58zM616.79,918.57h1.58v1.58h-1.58zM619.94,918.57h1.58v1.58h-1.58zM624.68,918.57h1.58v1.58h-1.58zM632.56,918.57h1.58v1.58h-1.58zM637.29,918.57h1.58v1.58h-1.58zM640.45,918.57h1.58v1.58h-1.58zM645.18,918.57h1.58v1.58h-1.58zM648.34,918.57h1.58v1.58h-1.58zM649.91,918.57h1.58v1.58h-1.58zM653.07,918.57h1.58v1.58h-1.58zM656.22,918.57h1.58v1.58h-1.58zM580.51,920.15h1.58v1.58h-1.58zM582.09,920.15h1.58v1.58h-1.58zM583.66,920.15h1.58v1.58h-1.58zM585.24,920.15h1.58v1.58h-1.58zM588.40,920.15h1.58v1.58h-1.58zM593.13,920.15h1.58v1.58h-1.58zM594.71,920.15h1.58v1.58h-1.58zM597.86,920.15h1.58v1.58h-1.58zM599.44,920.15h1.58v1.58h-1.58zM601.02,920.15h1.58v1.58h-1.58zM602.59,920.15h1.58v1.58h-1.58zM604.17,920.15h1.58v1.58h-1.58zM627.83,920.15h1.58v1.58h-1.58zM629.41,920.15h1.58v1.58h-1.58zM630.98,920.15h1.58v1.58h-1.58zM635.72,920.15h1.58v1.58h-1.58zM638.87,920.15h1.58v1.58h-1.58zM643.60,920.15h1.58v1.58h-1.58zM646.76,920.15h1.58v1.58h-1.58zM649.91,920.15h1.58v1.58h-1.58zM651.49,920.15h1.58v1.58h-1.58zM653.07,920.15h1.58v1.58h-1.58zM656.22,920.15h1.58v1.58h-1.58zM577.35,921.72h1.58v1.58h-1.58zM578.93,921.72h1.58v1.58h-1.58zM586.82,921.72h1.58v1.58h-1.58zM588.40,921.72h1.58v1.58h-1.58zM589.97,921.72h1.58v1.58h-1.58zM591.55,921.72h1.58v1.58h-1.58zM597.86,921.72h1.58v1.58h-1.58zM602.59,921.72h1.58v1.58h-1.58zM629.41,921.72h1.58v1.58h-1.58zM634.14,921.72h1.58v1.58h-1.58zM637.29,921.72h1.58v1.58h-1.58zM638.87,921.72h1.58v1.58h-1.58zM640.45,921.72h1.58v1.58h-1.58zM646.76,921.72h1.58v1.58h-1.58zM649.91,921.72h1.58v1.58h-1.58zM651.49,921.72h1.58v1.58h-1.58zM577.35,923.30h1.58v1.58h-1.58zM583.66,923.30h1.58v1.58h-1.58zM588.40,923.30h1.58v1.58h-1.58zM589.97,923.30h1.58v1.58h-1.58zM593.13,923.30h1.58v1.58h-1.58zM596.28,923.30h1.58v1.58h-1.58zM597.86,923.30h1.58v1.58h-1.58zM599.44,923.30h1.58v1.58h-1.58zM602.59,923.30h1.58v1.58h-1.58zM604.17,923.30h1.58v1.58h-1.58zM630.98,923.30h1.58v1.58h-1.58zM632.56,923.30h1.58v1.58h-1.58zM634.14,923.30h1.58v1.58h-1.58zM635.72,923.30h1.58v1.58h-1.58zM645.18,923.30h1.58v1.58h-1.58zM646.76,923.30h1.58v1.58h-1.58zM648.34,923.30h1.58v1.58h-1.58zM651.49,923.30h1.58v1.58h-1.58zM653.07,923.30h1.58v1.58h-1.58zM654.65,923.30h1.58v1.58h-1.58zM656.22,923.30h1.58v1.58h-1.58zM574.20,924.88h1.58v1.58h-1.58zM575.78,924.88h1.58v1.58h-1.58zM578.93,924.88h1.58v1.58h-1.58zM580.51,924.88h1.58v1.58h-1.58zM588.40,924.88h1.58v1.58h-1.58zM589.97,924.88h1.58v1.58h-1.58zM591.55,924.88h1.58v1.58h-1.58zM594.71,924.88h1.58v1.58h-1.58zM599.44,924.88h1.58v1.58h-1.58zM602.59,924.88h1.58v1.58h-1.58zM629.41,924.88h1.58v1.58h-1.58zM630.98,924.88h1.58v1.58h-1.58zM634.14,924.88h1.58v1.58h-1.58zM635.72,924.88h1.58v1.58h-1.58zM638.87,924.88h1.58v1.58h-1.58zM646.76,924.88h1.58v1.58h-1.58zM648.34,924.88h1.58v1.58h-1.58zM649.91,924.88h1.58v1.58h-1.58zM653.07,924.88h1.58v1.58h-1.58zM656.22,924.88h1.58v1.58h-1.58zM574.20,926.46h1.58v1.58h-1.58zM575.78,926.46h1.58v1.58h-1.58zM580.51,926.46h1.58v1.58h-1.58zM582.09,926.46h1.58v1.58h-1.58zM583.66,926.46h1.58v1.58h-1.58zM585.24,926.46h1.58v1.58h-1.58zM586.82,926.46h1.58v1.58h-1.58zM593.13,926.46h1.58v1.58h-1.58zM594.71,926.46h1.58v1.58h-1.58zM596.28,926.46h1.58v1.58h-1.58zM602.59,926.46h1.58v1.58h-1.58zM604.17,926.46h1.58v1.58h-1.58zM629.41,926.46h1.58v1.58h-1.58zM630.98,926.46h1.58v1.58h-1.58zM632.56,926.46h1.58v1.58h-1.58zM637.29,926.46h1.58v1.58h-1.58zM640.45,926.46h1.58v1.58h-1.58zM642.03,926.46h1.58v1.58h-1.58zM643.60,926.46h1.58v1.58h-1.58zM645.18,926.46h1.58v1.58h-1.58zM646.76,926.46h1.58v1.58h-1.58zM648.34,926.46h1.58v1.58h-1.58zM649.91,926.46h1.58v1.58h-1.58zM653.07,926.46h1.58v1.58h-1.58zM654.65,926.46h1.58v1.58h-1.58zM656.22,926.46h1.58v1.58h-1.58zM574.20,928.03h1.58v1.58h-1.58zM575.78,928.03h1.58v1.58h-1.58zM580.51,928.03h1.58v1.58h-1.58zM586.82,928.03h1.58v1.58h-1.58zM588.40,928.03h1.58v1.58h-1.58zM593.13,928.03h1.58v1.58h-1.58zM597.86,928.03h1.58v1.58h-1.58zM599.44,928.03h1.58v1.58h-1.58zM627.83,928.03h1.58v1.58h-1.58zM630.98,928.03h1.58v1.58h-1.58zM635.72,928.03h1.58v1.58h-1.58zM640.45,928.03h1.58v1.58h-1.58zM642.03,928.03h1.58v1.58h-1.58zM643.60,928.03h1.58v1.58h-1.58zM649.91,928.03h1.58v1.58h-1.58zM654.65,928.03h1.58v1.58h-1.58zM580.51,929.61h1.58v1.58h-1.58zM583.66,929.61h1.58v1.58h-1.58zM586.82,929.61h1.58v1.58h-1.58zM589.97,929.61h1.58v1.58h-1.58zM593.13,929.61h1.58v1.58h-1.58zM596.28,929.61h1.58v1.58h-1.58zM597.86,929.61h1.58v1.58h-1.58zM599.44,929.61h1.58v1.58h-1.58zM601.02,929.61h1.58v1.58h-1.58zM602.59,929.61h1.58v1.58h-1.58zM604.17,929.61h1.58v1.58h-1.58zM630.98,929.61h1.58v1.58h-1.58zM634.14,929.61h1.58v1.58h-1.58zM637.29,929.61h1.58v1.58h-1.58zM643.60,929.61h1.58v1.58h-1.58zM646.76,929.61h1.58v1.58h-1.58zM649.91,929.61h1.58v1.58h-1.58zM651.49,929.61h1.58v1.58h-1.58zM654.65,929.61h1.58v1.58h-1.58zM656.22,929.61h1.58v1.58h-1.58zM574.20,931.19h1.58v1.58h-1.58zM575.78,931.19h1.58v1.58h-1.58zM577.35,931.19h1.58v1.58h-1.58zM578.93,931.19h1.58v1.58h-1.58zM580.51,931.19h1.58v1.58h-1.58zM586.82,931.19h1.58v1.58h-1.58zM588.40,931.19h1.58v1.58h-1.58zM593.13,931.19h1.58v1.58h-1.58zM597.86,931.19h1.58v1.58h-1.58zM604.17,931.19h1.58v1.58h-1.58zM629.41,931.19h1.58v1.58h-1.58zM642.03,931.19h1.58v1.58h-1.58zM643.60,931.19h1.58v1.58h-1.58zM649.91,931.19h1.58v1.58h-1.58zM653.07,931.19h1.58v1.58h-1.58zM654.65,931.19h1.58v1.58h-1.58zM656.22,931.19h1.58v1.58h-1.58zM574.20,932.77h1.58v1.58h-1.58zM575.78,932.77h1.58v1.58h-1.58zM577.35,932.77h1.58v1.58h-1.58zM578.93,932.77h1.58v1.58h-1.58zM580.51,932.77h1.58v1.58h-1.58zM582.09,932.77h1.58v1.58h-1.58zM583.66,932.77h1.58v1.58h-1.58zM585.24,932.77h1.58v1.58h-1.58zM586.82,932.77h1.58v1.58h-1.58zM589.97,932.77h1.58v1.58h-1.58zM596.28,932.77h1.58v1.58h-1.58zM597.86,932.77h1.58v1.58h-1.58zM601.02,932.77h1.58v1.58h-1.58zM627.83,932.77h1.58v1.58h-1.58zM629.41,932.77h1.58v1.58h-1.58zM634.14,932.77h1.58v1.58h-1.58zM635.72,932.77h1.58v1.58h-1.58zM637.29,932.77h1.58v1.58h-1.58zM642.03,932.77h1.58v1.58h-1.58zM643.60,932.77h1.58v1.58h-1.58zM645.18,932.77h1.58v1.58h-1.58zM646.76,932.77h1.58v1.58h-1.58zM648.34,932.77h1.58v1.58h-1.58zM649.91,932.77h1.58v1.58h-1.58zM656.22,932.77h1.58v1.58h-1.58zM574.20,934.34h1.58v1.58h-1.58zM575.78,934.34h1.58v1.58h-1.58zM582.09,934.34h1.58v1.58h-1.58zM588.40,934.34h1.58v1.58h-1.58zM589.97,934.34h1.58v1.58h-1.58zM591.55,934.34h1.58v1.58h-1.58zM593.13,934.34h1.58v1.58h-1.58zM627.83,934.34h1.58v1.58h-1.58zM634.14,934.34h1.58v1.58h-1.58zM635.72,934.34h1.58v1.58h-1.58zM637.29,934.34h1.58v1.58h-1.58zM638.87,934.34h1.58v1.58h-1.58zM640.45,934.34h1.58v1.58h-1.58zM645.18,934.34h1.58v1.58h-1.58zM648.34,934.34h1.58v1.58h-1.58zM649.91,934.34h1.58v1.58h-1.58zM656.22,934.34h1.58v1.58h-1.58zM574.20,935.92h1.58v1.58h-1.58zM575.78,935.92h1.58v1.58h-1.58zM582.09,935.92h1.58v1.58h-1.58zM583.66,935.92h1.58v1.58h-1.58zM585.24,935.92h1.58v1.58h-1.58zM588.40,935.92h1.58v1.58h-1.58zM589.97,935.92h1.58v1.58h-1.58zM591.55,935.92h1.58v1.58h-1.58zM593.13,935.92h1.58v1.58h-1.58zM596.28,935.92h1.58v1.58h-1.58zM599.44,935.92h1.58v1.58h-1.58zM602.59,935.92h1.58v1.58h-1.58zM604.17,935.92h1.58v1.58h-1.58zM627.83,935.92h1.58v1.58h-1.58zM632.56,935.92h1.58v1.58h-1.58zM634.14,935.92h1.58v1.58h-1.58zM638.87,935.92h1.58v1.58h-1.58zM640.45,935.92h1.58v1.58h-1.58zM643.60,935.92h1.58v1.58h-1.58zM646.76,935.92h1.58v1.58h-1.58zM648.34,935.92h1.58v1.58h-1.58zM649.91,935.92h1.58v1.58h-1.58zM653.07,935.92h1.58v1.58h-1.58zM656.22,935.92h1.58v1.58h-1.58zM575.78,937.50h1.58v1.58h-1.58zM580.51,937.50h1.58v1.58h-1.58zM582.09,937.50h1.58v1.58h-1.58zM589.97,937.50h1.58v1.58h-1.58zM591.55,937.50h1.58v1.58h-1.58zM597.86,937.50h1.58v1.58h-1.58zM629.41,937.50h1.58v1.58h-1.58zM637.29,937.50h1.58v1.58h-1.58zM645.18,937.50h1.58v1.58h-1.58zM646.76,937.50h1.58v1.58h-1.58zM651.49,937.50h1.58v1.58h-1.58zM656.22,937.50h1.58v1.58h-1.58zM577.35,939.08h1.58v1.58h-1.58zM578.93,939.08h1.58v1.58h-1.58zM580.51,939.08h1.58v1.58h-1.58zM585.24,939.08h1.58v1.58h-1.58zM586.82,939.08h1.58v1.58h-1.58zM591.55,939.08h1.58v1.58h-1.58zM599.44,939.08h1.58v1.58h-1.58zM602.59,939.08h1.58v1.58h-1.58zM604.17,939.08h1.58v1.58h-1.58zM629.41,939.08h1.58v1.58h-1.58zM632.56,939.08h1.58v1.58h-1.58zM634.14,939.08h1.58v1.58h-1.58zM638.87,939.08h1.58v1.58h-1.58zM642.03,939.08h1.58v1.58h-1.58zM645.18,939.08h1.58v1.58h-1.58zM653.07,939.08h1.58v1.58h-1.58zM654.65,939.08h1.58v1.58h-1.58zM656.22,939.08h1.58v1.58h-1.58zM574.20,940.65h1.58v1.58h-1.58zM575.78,940.65h1.58v1.58h-1.58zM577.35,940.65h1.58v1.58h-1.58zM582.09,940.65h1.58v1.58h-1.58zM586.82,940.65h1.58v1.58h-1.58zM589.97,940.65h1.58v1.58h-1.58zM591.55,940.65h1.58v1.58h-1.58zM594.71,940.65h1.58v1.58h-1.58zM602.59,940.65h1.58v1.58h-1.58zM604.17,940.65h1.58v1.58h-1.58zM629.41,940.65h1.58v1.58h-1.58zM630.98,940.65h1.58v1.58h-1.58zM637.29,940.65h1.58v1.58h-1.58zM642.03,940.65h1.58v1.58h-1.58zM643.60,940.65h1.58v1.58h-1.58zM645.18,940.65h1.58v1.58h-1.58zM646.76,940.65h1.58v1.58h-1.58zM648.34,940.65h1.58v1.58h-1.58zM649.91,940.65h1.58v1.58h-1.58zM651.49,940.65h1.58v1.58h-1.58zM653.07,940.65h1.58v1.58h-1.58zM656.22,940.65h1.58v1.58h-1.58zM575.78,942.23h1.58v1.58h-1.58zM577.35,942.23h1.58v1.58h-1.58zM580.51,942.23h1.58v1.58h-1.58zM586.82,942.23h1.58v1.58h-1.58zM588.40,942.23h1.58v1.58h-1.58zM589.97,942.23h1.58v1.58h-1.58zM596.28,942.23h1.58v1.58h-1.58zM597.86,942.23h1.58v1.58h-1.58zM601.02,942.23h1.58v1.58h-1.58zM604.17,942.23h1.58v1.58h-1.58zM605.75,942.23h1.58v1.58h-1.58zM607.32,942.23h1.58v1.58h-1.58zM612.06,942.23h1.58v1.58h-1.58zM615.21,942.23h1.58v1.58h-1.58zM616.79,942.23h1.58v1.58h-1.58zM618.37,942.23h1.58v1.58h-1.58zM619.94,942.23h1.58v1.58h-1.58zM623.10,942.23h1.58v1.58h-1.58zM624.68,942.23h1.58v1.58h-1.58zM626.25,942.23h1.58v1.58h-1.58zM627.83,942.23h1.58v1.58h-1.58zM630.98,942.23h1.58v1.58h-1.58zM634.14,942.23h1.58v1.58h-1.58zM638.87,942.23h1.58v1.58h-1.58zM640.45,942.23h1.58v1.58h-1.58zM642.03,942.23h1.58v1.58h-1.58zM643.60,942.23h1.58v1.58h-1.58zM645.18,942.23h1.58v1.58h-1.58zM646.76,942.23h1.58v1.58h-1.58zM653.07,942.23h1.58v1.58h-1.58zM654.65,942.23h1.58v1.58h-1.58zM574.20,943.81h1.58v1.58h-1.58zM577.35,943.81h1.58v1.58h-1.58zM580.51,943.81h1.58v1.58h-1.58zM583.66,943.81h1.58v1.58h-1.58zM585.24,943.81h1.58v1.58h-1.58zM586.82,943.81h1.58v1.58h-1.58zM591.55,943.81h1.58v1.58h-1.58zM593.13,943.81h1.58v1.58h-1.58zM596.28,943.81h1.58v1.58h-1.58zM599.44,943.81h1.58v1.58h-1.58zM601.02,943.81h1.58v1.58h-1.58zM605.75,943.81h1.58v1.58h-1.58zM607.32,943.81h1.58v1.58h-1.58zM608.90,943.81h1.58v1.58h-1.58zM612.06,943.81h1.58v1.58h-1.58zM613.63,943.81h1.58v1.58h-1.58zM615.21,943.81h1.58v1.58h-1.58zM623.10,943.81h1.58v1.58h-1.58zM624.68,943.81h1.58v1.58h-1.58zM627.83,943.81h1.58v1.58h-1.58zM630.98,943.81h1.58v1.58h-1.58zM634.14,943.81h1.58v1.58h-1.58zM638.87,943.81h1.58v1.58h-1.58zM640.45,943.81h1.58v1.58h-1.58zM643.60,943.81h1.58v1.58h-1.58zM646.76,943.81h1.58v1.58h-1.58zM648.34,943.81h1.58v1.58h-1.58zM651.49,943.81h1.58v1.58h-1.58zM653.07,943.81h1.58v1.58h-1.58zM654.65,943.81h1.58v1.58h-1.58zM574.20,945.38h1.58v1.58h-1.58zM577.35,945.38h1.58v1.58h-1.58zM580.51,945.38h1.58v1.58h-1.58zM586.82,945.38h1.58v1.58h-1.58zM589.97,945.38h1.58v1.58h-1.58zM593.13,945.38h1.58v1.58h-1.58zM597.86,945.38h1.58v1.58h-1.58zM604.17,945.38h1.58v1.58h-1.58zM607.32,945.38h1.58v1.58h-1.58zM608.90,945.38h1.58v1.58h-1.58zM610.48,945.38h1.58v1.58h-1.58zM612.06,945.38h1.58v1.58h-1.58zM615.21,945.38h1.58v1.58h-1.58zM616.79,945.38h1.58v1.58h-1.58zM619.94,945.38h1.58v1.58h-1.58zM621.52,945.38h1.58v1.58h-1.58zM629.41,945.38h1.58v1.58h-1.58zM634.14,945.38h1.58v1.58h-1.58zM635.72,945.38h1.58v1.58h-1.58zM637.29,945.38h1.58v1.58h-1.58zM640.45,945.38h1.58v1.58h-1.58zM642.03,945.38h1.58v1.58h-1.58zM643.60,945.38h1.58v1.58h-1.58zM645.18,945.38h1.58v1.58h-1.58zM649.91,945.38h1.58v1.58h-1.58zM654.65,945.38h1.58v1.58h-1.58zM575.78,946.96h1.58v1.58h-1.58zM577.35,946.96h1.58v1.58h-1.58zM582.09,946.96h1.58v1.58h-1.58zM586.82,946.96h1.58v1.58h-1.58zM588.40,946.96h1.58v1.58h-1.58zM589.97,946.96h1.58v1.58h-1.58zM591.55,946.96h1.58v1.58h-1.58zM601.02,946.96h1.58v1.58h-1.58zM607.32,946.96h1.58v1.58h-1.58zM608.90,946.96h1.58v1.58h-1.58zM612.06,946.96h1.58v1.58h-1.58zM615.21,946.96h1.58v1.58h-1.58zM616.79,946.96h1.58v1.58h-1.58zM619.94,946.96h1.58v1.58h-1.58zM621.52,946.96h1.58v1.58h-1.58zM634.14,946.96h1.58v1.58h-1.58zM637.29,946.96h1.58v1.58h-1.58zM640.45,946.96h1.58v1.58h-1.58zM646.76,946.96h1.58v1.58h-1.58zM649.91,946.96h1.58v1.58h-1.58zM653.07,946.96h1.58v1.58h-1.58zM654.65,946.96h1.58v1.58h-1.58zM574.20,948.54h1.58v1.58h-1.58zM580.51,948.54h1.58v1.58h-1.58zM582.09,948.54h1.58v1.58h-1.58zM585.24,948.54h1.58v1.58h-1.58zM586.82,948.54h1.58v1.58h-1.58zM588.40,948.54h1.58v1.58h-1.58zM589.97,948.54h1.58v1.58h-1.58zM591.55,948.54h1.58v1.58h-1.58zM593.13,948.54h1.58v1.58h-1.58zM594.71,948.54h1.58v1.58h-1.58zM596.28,948.54h1.58v1.58h-1.58zM605.75,948.54h1.58v1.58h-1.58zM608.90,948.54h1.58v1.58h-1.58zM613.63,948.54h1.58v1.58h-1.58zM615.21,948.54h1.58v1.58h-1.58zM616.79,948.54h1.58v1.58h-1.58zM618.37,948.54h1.58v1.58h-1.58zM621.52,948.54h1.58v1.58h-1.58zM624.68,948.54h1.58v1.58h-1.58zM626.25,948.54h1.58v1.58h-1.58zM629.41,948.54h1.58v1.58h-1.58zM632.56,948.54h1.58v1.58h-1.58zM634.14,948.54h1.58v1.58h-1.58zM637.29,948.54h1.58v1.58h-1.58zM640.45,948.54h1.58v1.58h-1.58zM642.03,948.54h1.58v1.58h-1.58zM645.18,948.54h1.58v1.58h-1.58zM646.76,948.54h1.58v1.58h-1.58zM648.34,948.54h1.58v1.58h-1.58zM649.91,948.54h1.58v1.58h-1.58zM653.07,948.54h1.58v1.58h-1.58zM654.65,948.54h1.58v1.58h-1.58zM575.78,950.12h1.58v1.58h-1.58zM577.35,950.12h1.58v1.58h-1.58zM578.93,950.12h1.58v1.58h-1.58zM593.13,950.12h1.58v1.58h-1.58zM599.44,950.12h1.58v1.58h-1.58zM602.59,950.12h1.58v1.58h-1.58zM607.32,950.12h1.58v1.58h-1.58zM612.06,950.12h1.58v1.58h-1.58zM618.37,950.12h1.58v1.58h-1.58zM619.94,950.12h1.58v1.58h-1.58zM621.52,950.12h1.58v1.58h-1.58zM624.68,950.12h1.58v1.58h-1.58zM626.25,950.12h1.58v1.58h-1.58zM629.41,950.12h1.58v1.58h-1.58zM630.98,950.12h1.58v1.58h-1.58zM635.72,950.12h1.58v1.58h-1.58zM637.29,950.12h1.58v1.58h-1.58zM638.87,950.12h1.58v1.58h-1.58zM640.45,950.12h1.58v1.58h-1.58zM642.03,950.12h1.58v1.58h-1.58zM646.76,950.12h1.58v1.58h-1.58zM649.91,950.12h1.58v1.58h-1.58zM656.22,950.12h1.58v1.58h-1.58zM574.20,951.69h1.58v1.58h-1.58zM577.35,951.69h1.58v1.58h-1.58zM578.93,951.69h1.58v1.58h-1.58zM582.09,951.69h1.58v1.58h-1.58zM594.71,951.69h1.58v1.58h-1.58zM596.28,951.69h1.58v1.58h-1.58zM599.44,951.69h1.58v1.58h-1.58zM605.75,951.69h1.58v1.58h-1.58zM607.32,951.69h1.58v1.58h-1.58zM608.90,951.69h1.58v1.58h-1.58zM616.79,951.69h1.58v1.58h-1.58zM618.37,951.69h1.58v1.58h-1.58zM623.10,951.69h1.58v1.58h-1.58zM627.83,951.69h1.58v1.58h-1.58zM629.41,951.69h1.58v1.58h-1.58zM635.72,951.69h1.58v1.58h-1.58zM645.18,951.69h1.58v1.58h-1.58zM646.76,951.69h1.58v1.58h-1.58zM648.34,951.69h1.58v1.58h-1.58zM653.07,951.69h1.58v1.58h-1.58zM654.65,951.69h1.58v1.58h-1.58zM575.78,953.27h1.58v1.58h-1.58zM580.51,953.27h1.58v1.58h-1.58zM582.09,953.27h1.58v1.58h-1.58zM585.24,953.27h1.58v1.58h-1.58zM588.40,953.27h1.58v1.58h-1.58zM589.97,953.27h1.58v1.58h-1.58zM596.28,953.27h1.58v1.58h-1.58zM597.86,953.27h1.58v1.58h-1.58zM601.02,953.27h1.58v1.58h-1.58zM608.90,953.27h1.58v1.58h-1.58zM610.48,953.27h1.58v1.58h-1.58zM612.06,953.27h1.58v1.58h-1.58zM615.21,953.27h1.58v1.58h-1.58zM616.79,953.27h1.58v1.58h-1.58zM618.37,953.27h1.58v1.58h-1.58zM626.25,953.27h1.58v1.58h-1.58zM627.83,953.27h1.58v1.58h-1.58zM630.98,953.27h1.58v1.58h-1.58zM634.14,953.27h1.58v1.58h-1.58zM635.72,953.27h1.58v1.58h-1.58zM637.29,953.27h1.58v1.58h-1.58zM638.87,953.27h1.58v1.58h-1.58zM643.60,953.27h1.58v1.58h-1.58zM645.18,953.27h1.58v1.58h-1.58zM646.76,953.27h1.58v1.58h-1.58zM648.34,953.27h1.58v1.58h-1.58zM654.65,953.27h1.58v1.58h-1.58zM574.20,954.85h1.58v1.58h-1.58zM575.78,954.85h1.58v1.58h-1.58zM580.51,954.85h1.58v1.58h-1.58zM585.24,954.85h1.58v1.58h-1.58zM589.97,954.85h1.58v1.58h-1.58zM593.13,954.85h1.58v1.58h-1.58zM594.71,954.85h1.58v1.58h-1.58zM597.86,954.85h1.58v1.58h-1.58zM599.44,954.85h1.58v1.58h-1.58zM602.59,954.85h1.58v1.58h-1.58zM605.75,954.85h1.58v1.58h-1.58zM607.32,954.85h1.58v1.58h-1.58zM608.90,954.85h1.58v1.58h-1.58zM610.48,954.85h1.58v1.58h-1.58zM613.63,954.85h1.58v1.58h-1.58zM616.79,954.85h1.58v1.58h-1.58zM619.94,954.85h1.58v1.58h-1.58zM621.52,954.85h1.58v1.58h-1.58zM623.10,954.85h1.58v1.58h-1.58zM624.68,954.85h1.58v1.58h-1.58zM627.83,954.85h1.58v1.58h-1.58zM629.41,954.85h1.58v1.58h-1.58zM630.98,954.85h1.58v1.58h-1.58zM632.56,954.85h1.58v1.58h-1.58zM634.14,954.85h1.58v1.58h-1.58zM635.72,954.85h1.58v1.58h-1.58zM638.87,954.85h1.58v1.58h-1.58zM640.45,954.85h1.58v1.58h-1.58zM643.60,954.85h1.58v1.58h-1.58zM645.18,954.85h1.58v1.58h-1.58zM648.34,954.85h1.58v1.58h-1.58zM649.91,954.85h1.58v1.58h-1.58zM654.65,954.85h1.58v1.58h-1.58zM656.22,954.85h1.58v1.58h-1.58zM575.78,956.43h1.58v1.58h-1.58zM578.93,956.43h1.58v1.58h-1.58zM583.66,956.43h1.58v1.58h-1.58zM585.24,956.43h1.58v1.58h-1.58zM586.82,956.43h1.58v1.58h-1.58zM589.97,956.43h1.58v1.58h-1.58zM594.71,956.43h1.58v1.58h-1.58zM596.28,956.43h1.58v1.58h-1.58zM599.44,956.43h1.58v1.58h-1.58zM602.59,956.43h1.58v1.58h-1.58zM607.32,956.43h1.58v1.58h-1.58zM610.48,956.43h1.58v1.58h-1.58zM615.21,956.43h1.58v1.58h-1.58zM616.79,956.43h1.58v1.58h-1.58zM618.37,956.43h1.58v1.58h-1.58zM619.94,956.43h1.58v1.58h-1.58zM623.10,956.43h1.58v1.58h-1.58zM626.25,956.43h1.58v1.58h-1.58zM629.41,956.43h1.58v1.58h-1.58zM632.56,956.43h1.58v1.58h-1.58zM634.14,956.43h1.58v1.58h-1.58zM635.72,956.43h1.58v1.58h-1.58zM637.29,956.43h1.58v1.58h-1.58zM638.87,956.43h1.58v1.58h-1.58zM642.03,956.43h1.58v1.58h-1.58zM643.60,956.43h1.58v1.58h-1.58zM651.49,956.43h1.58v1.58h-1.58zM653.07,956.43h1.58v1.58h-1.58zM654.65,956.43h1.58v1.58h-1.58zM575.78,958.00h1.58v1.58h-1.58zM577.35,958.00h1.58v1.58h-1.58zM582.09,958.00h1.58v1.58h-1.58zM585.24,958.00h1.58v1.58h-1.58zM588.40,958.00h1.58v1.58h-1.58zM589.97,958.00h1.58v1.58h-1.58zM596.28,958.00h1.58v1.58h-1.58zM597.86,958.00h1.58v1.58h-1.58zM599.44,958.00h1.58v1.58h-1.58zM601.02,958.00h1.58v1.58h-1.58zM602.59,958.00h1.58v1.58h-1.58zM604.17,958.00h1.58v1.58h-1.58zM605.75,958.00h1.58v1.58h-1.58zM607.32,958.00h1.58v1.58h-1.58zM610.48,958.00h1.58v1.58h-1.58zM612.06,958.00h1.58v1.58h-1.58zM613.63,958.00h1.58v1.58h-1.58zM615.21,958.00h1.58v1.58h-1.58zM616.79,958.00h1.58v1.58h-1.58zM618.37,958.00h1.58v1.58h-1.58zM621.52,958.00h1.58v1.58h-1.58zM623.10,958.00h1.58v1.58h-1.58zM627.83,958.00h1.58v1.58h-1.58zM629.41,958.00h1.58v1.58h-1.58zM634.14,958.00h1.58v1.58h-1.58zM635.72,958.00h1.58v1.58h-1.58zM637.29,958.00h1.58v1.58h-1.58zM640.45,958.00h1.58v1.58h-1.58zM643.60,958.00h1.58v1.58h-1.58zM645.18,958.00h1.58v1.58h-1.58zM646.76,958.00h1.58v1.58h-1.58zM648.34,958.00h1.58v1.58h-1.58zM649.91,958.00h1.58v1.58h-1.58zM653.07,958.00h1.58v1.58h-1.58zM654.65,958.00h1.58v1.58h-1.58zM588.40,959.58h1.58v1.58h-1.58zM593.13,959.58h1.58v1.58h-1.58zM596.28,959.58h1.58v1.58h-1.58zM601.02,959.58h1.58v1.58h-1.58zM608.90,959.58h1.58v1.58h-1.58zM610.48,959.58h1.58v1.58h-1.58zM612.06,959.58h1.58v1.58h-1.58zM618.37,959.58h1.58v1.58h-1.58zM623.10,959.58h1.58v1.58h-1.58zM624.68,959.58h1.58v1.58h-1.58zM627.83,959.58h1.58v1.58h-1.58zM630.98,959.58h1.58v1.58h-1.58zM632.56,959.58h1.58v1.58h-1.58zM635.72,959.58h1.58v1.58h-1.58zM638.87,959.58h1.58v1.58h-1.58zM643.60,959.58h1.58v1.58h-1.58zM649.91,959.58h1.58v1.58h-1.58zM654.65,959.58h1.58v1.58h-1.58zM656.22,959.58h1.58v1.58h-1.58zM574.20,961.16h1.58v1.58h-1.58zM575.78,961.16h1.58v1.58h-1.58zM577.35,961.16h1.58v1.58h-1.58zM578.93,961.16h1.58v1.58h-1.58zM580.51,961.16h1.58v1.58h-1.58zM582.09,961.16h1.58v1.58h-1.58zM583.66,961.16h1.58v1.58h-1.58zM586.82,961.16h1.58v1.58h-1.58zM588.40,961.16h1.58v1.58h-1.58zM589.97,961.16h1.58v1.58h-1.58zM591.55,961.16h1.58v1.58h-1.58zM593.13,961.16h1.58v1.58h-1.58zM594.71,961.16h1.58v1.58h-1.58zM599.44,961.16h1.58v1.58h-1.58zM605.75,961.16h1.58v1.58h-1.58zM607.32,961.16h1.58v1.58h-1.58zM608.90,961.16h1.58v1.58h-1.58zM610.48,961.16h1.58v1.58h-1.58zM612.06,961.16h1.58v1.58h-1.58zM615.21,961.16h1.58v1.58h-1.58zM618.37,961.16h1.58v1.58h-1.58zM623.10,961.16h1.58v1.58h-1.58zM624.68,961.16h1.58v1.58h-1.58zM626.25,961.16h1.58v1.58h-1.58zM627.83,961.16h1.58v1.58h-1.58zM632.56,961.16h1.58v1.58h-1.58zM634.14,961.16h1.58v1.58h-1.58zM640.45,961.16h1.58v1.58h-1.58zM643.60,961.16h1.58v1.58h-1.58zM646.76,961.16h1.58v1.58h-1.58zM649.91,961.16h1.58v1.58h-1.58zM651.49,961.16h1.58v1.58h-1.58zM653.07,961.16h1.58v1.58h-1.58zM656.22,961.16h1.58v1.58h-1.58zM574.20,962.74h1.58v1.58h-1.58zM583.66,962.74h1.58v1.58h-1.58zM588.40,962.74h1.58v1.58h-1.58zM589.97,962.74h1.58v1.58h-1.58zM591.55,962.74h1.58v1.58h-1.58zM593.13,962.74h1.58v1.58h-1.58zM596.28,962.74h1.58v1.58h-1.58zM599.44,962.74h1.58v1.58h-1.58zM601.02,962.74h1.58v1.58h-1.58zM604.17,962.74h1.58v1.58h-1.58zM605.75,962.74h1.58v1.58h-1.58zM607.32,962.74h1.58v1.58h-1.58zM608.90,962.74h1.58v1.58h-1.58zM612.06,962.74h1.58v1.58h-1.58zM618.37,962.74h1.58v1.58h-1.58zM619.94,962.74h1.58v1.58h-1.58zM624.68,962.74h1.58v1.58h-1.58zM626.25,962.74h1.58v1.58h-1.58zM627.83,962.74h1.58v1.58h-1.58zM634.14,962.74h1.58v1.58h-1.58zM635.72,962.74h1.58v1.58h-1.58zM637.29,962.74h1.58v1.58h-1.58zM640.45,962.74h1.58v1.58h-1.58zM642.03,962.74h1.58v1.58h-1.58zM643.60,962.74h1.58v1.58h-1.58zM649.91,962.74h1.58v1.58h-1.58zM574.20,964.31h1.58v1.58h-1.58zM577.35,964.31h1.58v1.58h-1.58zM578.93,964.31h1.58v1.58h-1.58zM580.51,964.31h1.58v1.58h-1.58zM583.66,964.31h1.58v1.58h-1.58zM588.40,964.31h1.58v1.58h-1.58zM589.97,964.31h1.58v1.58h-1.58zM593.13,964.31h1.58v1.58h-1.58zM594.71,964.31h1.58v1.58h-1.58zM597.86,964.31h1.58v1.58h-1.58zM599.44,964.31h1.58v1.58h-1.58zM602.59,964.31h1.58v1.58h-1.58zM605.75,964.31h1.58v1.58h-1.58zM610.48,964.31h1.58v1.58h-1.58zM612.06,964.31h1.58v1.58h-1.58zM613.63,964.31h1.58v1.58h-1.58zM615.21,964.31h1.58v1.58h-1.58zM616.79,964.31h1.58v1.58h-1.58zM618.37,964.31h1.58v1.58h-1.58zM621.52,964.31h1.58v1.58h-1.58zM623.10,964.31h1.58v1.58h-1.58zM626.25,964.31h1.58v1.58h-1.58zM627.83,964.31h1.58v1.58h-1.58zM630.98,964.31h1.58v1.58h-1.58zM634.14,964.31h1.58v1.58h-1.58zM638.87,964.31h1.58v1.58h-1.58zM640.45,964.31h1.58v1.58h-1.58zM642.03,964.31h1.58v1.58h-1.58zM643.60,964.31h1.58v1.58h-1.58zM645.18,964.31h1.58v1.58h-1.58zM646.76,964.31h1.58v1.58h-1.58zM648.34,964.31h1.58v1.58h-1.58zM649.91,964.31h1.58v1.58h-1.58zM651.49,964.31h1.58v1.58h-1.58zM656.22,964.31h1.58v1.58h-1.58zM574.20,965.89h1.58v1.58h-1.58zM577.35,965.89h1.58v1.58h-1.58zM578.93,965.89h1.58v1.58h-1.58zM580.51,965.89h1.58v1.58h-1.58zM583.66,965.89h1.58v1.58h-1.58zM586.82,965.89h1.58v1.58h-1.58zM588.40,965.89h1.58v1.58h-1.58zM589.97,965.89h1.58v1.58h-1.58zM591.55,965.89h1.58v1.58h-1.58zM594.71,965.89h1.58v1.58h-1.58zM596.28,965.89h1.58v1.58h-1.58zM599.44,965.89h1.58v1.58h-1.58zM610.48,965.89h1.58v1.58h-1.58zM613.63,965.89h1.58v1.58h-1.58zM619.94,965.89h1.58v1.58h-1.58zM621.52,965.89h1.58v1.58h-1.58zM627.83,965.89h1.58v1.58h-1.58zM630.98,965.89h1.58v1.58h-1.58zM635.72,965.89h1.58v1.58h-1.58zM640.45,965.89h1.58v1.58h-1.58zM642.03,965.89h1.58v1.58h-1.58zM643.60,965.89h1.58v1.58h-1.58zM648.34,965.89h1.58v1.58h-1.58zM649.91,965.89h1.58v1.58h-1.58zM651.49,965.89h1.58v1.58h-1.58zM654.65,965.89h1.58v1.58h-1.58zM574.20,967.47h1.58v1.58h-1.58zM577.35,967.47h1.58v1.58h-1.58zM578.93,967.47h1.58v1.58h-1.58zM580.51,967.47h1.58v1.58h-1.58zM583.66,967.47h1.58v1.58h-1.58zM588.40,967.47h1.58v1.58h-1.58zM589.97,967.47h1.58v1.58h-1.58zM591.55,967.47h1.58v1.58h-1.58zM597.86,967.47h1.58v1.58h-1.58zM599.44,967.47h1.58v1.58h-1.58zM604.17,967.47h1.58v1.58h-1.58zM605.75,967.47h1.58v1.58h-1.58zM607.32,967.47h1.58v1.58h-1.58zM610.48,967.47h1.58v1.58h-1.58zM615.21,967.47h1.58v1.58h-1.58zM616.79,967.47h1.58v1.58h-1.58zM618.37,967.47h1.58v1.58h-1.58zM623.10,967.47h1.58v1.58h-1.58zM624.68,967.47h1.58v1.58h-1.58zM626.25,967.47h1.58v1.58h-1.58zM627.83,967.47h1.58v1.58h-1.58zM630.98,967.47h1.58v1.58h-1.58zM632.56,967.47h1.58v1.58h-1.58zM634.14,967.47h1.58v1.58h-1.58zM637.29,967.47h1.58v1.58h-1.58zM638.87,967.47h1.58v1.58h-1.58zM640.45,967.47h1.58v1.58h-1.58zM643.60,967.47h1.58v1.58h-1.58zM645.18,967.47h1.58v1.58h-1.58zM648.34,967.47h1.58v1.58h-1.58zM649.91,967.47h1.58v1.58h-1.58zM653.07,967.47h1.58v1.58h-1.58zM574.20,969.05h1.58v1.58h-1.58zM583.66,969.05h1.58v1.58h-1.58zM588.40,969.05h1.58v1.58h-1.58zM589.97,969.05h1.58v1.58h-1.58zM597.86,969.05h1.58v1.58h-1.58zM605.75,969.05h1.58v1.58h-1.58zM608.90,969.05h1.58v1.58h-1.58zM610.48,969.05h1.58v1.58h-1.58zM612.06,969.05h1.58v1.58h-1.58zM613.63,969.05h1.58v1.58h-1.58zM616.79,969.05h1.58v1.58h-1.58zM618.37,969.05h1.58v1.58h-1.58zM619.94,969.05h1.58v1.58h-1.58zM621.52,969.05h1.58v1.58h-1.58zM623.10,969.05h1.58v1.58h-1.58zM624.68,969.05h1.58v1.58h-1.58zM626.25,969.05h1.58v1.58h-1.58zM629.41,969.05h1.58v1.58h-1.58zM630.98,969.05h1.58v1.58h-1.58zM634.14,969.05h1.58v1.58h-1.58zM635.72,969.05h1.58v1.58h-1.58zM637.29,969.05h1.58v1.58h-1.58zM638.87,969.05h1.58v1.58h-1.58zM640.45,969.05h1.58v1.58h-1.58zM646.76,969.05h1.58v1.58h-1.58zM651.49,969.05h1.58v1.58h-1.58zM653.07,969.05h1.58v1.58h-1.58zM574.20,970.62h1.58v1.58h-1.58zM575.78,970.62h1.58v1.58h-1.58zM577.35,970.62h1.58v1.58h-1.58zM578.93,970.62h1.58v1.58h-1.58zM580.51,970.62h1.58v1.58h-1.58zM582.09,970.62h1.58v1.58h-1.58zM583.66,970.62h1.58v1.58h-1.58zM586.82,970.62h1.58v1.58h-1.58zM588.40,970.62h1.58v1.58h-1.58zM589.97,970.62h1.58v1.58h-1.58zM591.55,970.62h1.58v1.58h-1.58zM594.71,970.62h1.58v1.58h-1.58zM596.28,970.62h1.58v1.58h-1.58zM597.86,970.62h1.58v1.58h-1.58zM604.17,970.62h1.58v1.58h-1.58zM610.48,970.62h1.58v1.58h-1.58zM615.21,970.62h1.58v1.58h-1.58zM616.79,970.62h1.58v1.58h-1.58zM618.37,970.62h1.58v1.58h-1.58zM626.25,970.62h1.58v1.58h-1.58zM627.83,970.62h1.58v1.58h-1.58zM632.56,970.62h1.58v1.58h-1.58zM635.72,970.62h1.58v1.58h-1.58zM637.29,970.62h1.58v1.58h-1.58zM638.87,970.62h1.58v1.58h-1.58zM640.45,970.62h1.58v1.58h-1.58zM643.60,970.62h1.58v1.58h-1.58zM645.18,970.62h1.58v1.58h-1.58zM648.34,970.62h1.58v1.58h-1.58zM649.91,970.62h1.58v1.58h-1.58zM651.49,970.62h1.58v1.58h-1.58z" fill="#111"/>
<circle cx="616.00" cy="929.61" r="8.2" fill="#fff"/>
<path d="M608.40,928.61 A7.6,7.6 0 0 1 623.60,928.61 Z" fill="#3f6fc0"/>
<rect x="608.40" y="925.11" width="15.2" height="1.2" fill="#fff"/>
<path d="M609.00,927.11 C612.00,923.61 619.00,923.61 623.00,927.41 L623.00,929.61 L609.00,929.61 Z" fill="#fff"/>
<path d="M608.40,930.11 A7.6,7.6 0 0 0 623.60,930.11 Z" fill="#4aa83a"/>
<rect x="608.40" y="932.01" width="15.2" height="1" fill="#fff"/><rect x="608.40" y="934.21" width="15.2" height="0.9" fill="#fff"/>
</svg>
<div class="a" style="left:609.57px;top:937.66px;font-size:4.20px;color:#333;font-weight:bold;">BMKG</div>
<svg width="706" height="1000">
 <circle cx="22.1" cy="992.4" r="6.9" fill="#111"/>
 <circle cx="22.1" cy="992.4" r="4.8" fill="#b9b29a"/>
 <g stroke="#222" stroke-width="0.7" fill="none">
  <ellipse cx="22.1" cy="992.4" rx="2" ry="4.8"/><line x1="17.3" y1="992.4" x2="26.9" y2="992.4"/>
  <line x1="17.9" y1="990" x2="26.3" y2="990"/><line x1="17.9" y1="994.8" x2="26.3" y2="994.8"/>
 </g>
 <path d="M110.2,999.5 V993.2 H108 V990.8 H110.2 V988.6 C110.2,986.4 111.4,985.2 113.6,985.2 H115.6 V987.6 H114.2 C113.3,987.6 113,988 113,988.8 V990.8 H115.5 L115.1,993.2 H113 V999.5 Z" fill="#1b2566"/>
 <rect x="177.8" y="986.2" width="11.4" height="11.4" rx="3.2" fill="none" stroke="#111c4a" stroke-width="1.7"/>
 <circle cx="183.5" cy="991.9" r="2.6" fill="none" stroke="#111c4a" stroke-width="1.5"/>
 <circle cx="186.8" cy="988.6" r="0.8" fill="#111c4a"/>
</svg>
<div class="a" style="left:29.76px;top:990.00px;font-size:8.50px;color:#cfe2f5;transform:scaleX(0.9341);">kalteng.bmkg.go.id</div>
<div class="a" style="left:118.77px;top:990.00px;font-size:8.50px;color:#cfe2f5;transform:scaleX(0.9618);">bmkgkalteng</div>
<div class="a" style="left:192.36px;top:990.00px;font-size:8.50px;color:#cfe2f5;transform:scaleX(0.9531);">@bmkgkalteng</div>
</body></html>
